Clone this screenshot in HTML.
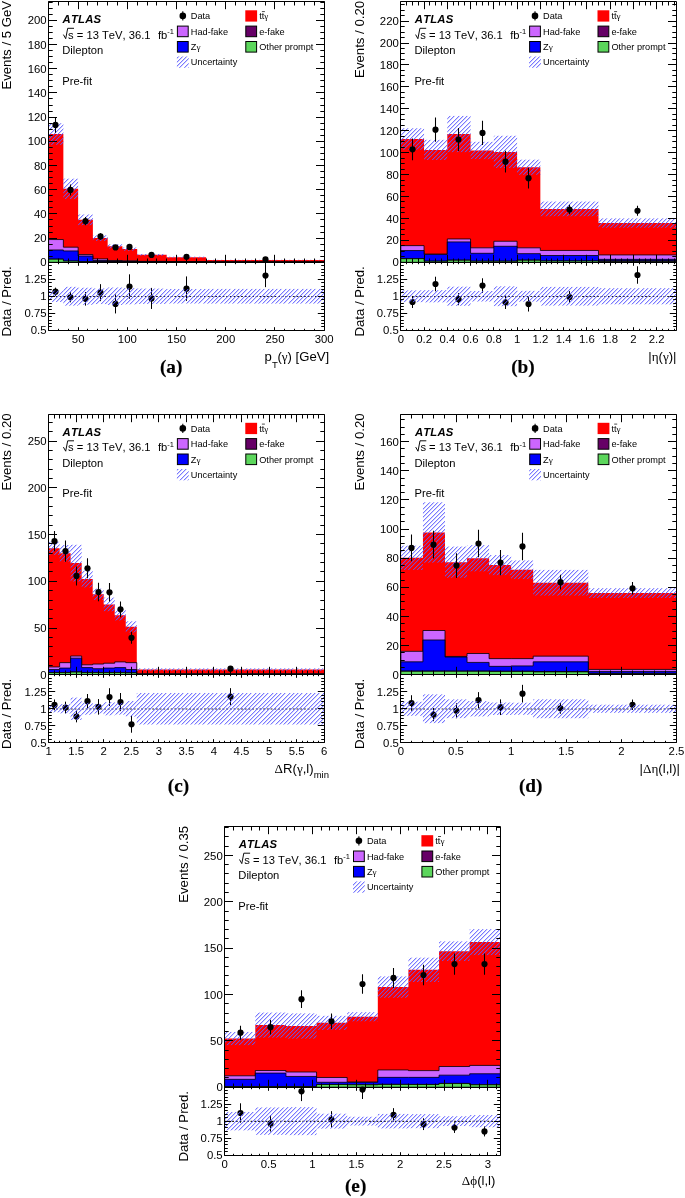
<!DOCTYPE html><html><head><meta charset="utf-8"><style>
html,body{margin:0;padding:0;background:#fff;-webkit-font-smoothing:antialiased;}
svg{display:block;will-change:transform;}
text{font-family:"Liberation Sans", sans-serif;fill:#000;font-kerning:none;}
.tl{font-size:10.9px;}
.xt{font-size:12.7px;}
.at{font-size:12.7px;}
.lt{font-size:11.2px;}
.lg{font-size:9.2px;}
.atlas{font-size:11.3px;font-weight:bold;font-style:italic;letter-spacing:0.2px;}
.pl{font-family:"Liberation Serif",serif;font-size:18px;font-weight:bold;stroke:#000;stroke-width:0.15px;}
.sub{font-size:9.2px;}
.gr{font-family:"Liberation Serif",serif;}
</style></head><body>
<svg width="685" height="1198" viewBox="0 0 685 1198">
<defs>
<pattern id="hatch" patternUnits="userSpaceOnUse" x="0" y="0" width="17" height="17"><g fill="#5c5cff" fill-opacity="0.82"><rect x="0" y="0" width="1" height="1"/><rect x="4" y="0" width="1" height="1"/><rect x="8" y="0" width="1" height="1"/><rect x="13" y="0" width="1" height="1"/><rect x="16" y="1" width="1" height="1"/><rect x="3" y="1" width="1" height="1"/><rect x="7" y="1" width="1" height="1"/><rect x="12" y="1" width="1" height="1"/><rect x="15" y="2" width="1" height="1"/><rect x="2" y="2" width="1" height="1"/><rect x="6" y="2" width="1" height="1"/><rect x="11" y="2" width="1" height="1"/><rect x="14" y="3" width="1" height="1"/><rect x="1" y="3" width="1" height="1"/><rect x="5" y="3" width="1" height="1"/><rect x="10" y="3" width="1" height="1"/><rect x="13" y="4" width="1" height="1"/><rect x="0" y="4" width="1" height="1"/><rect x="4" y="4" width="1" height="1"/><rect x="9" y="4" width="1" height="1"/><rect x="12" y="5" width="1" height="1"/><rect x="16" y="5" width="1" height="1"/><rect x="3" y="5" width="1" height="1"/><rect x="8" y="5" width="1" height="1"/><rect x="11" y="6" width="1" height="1"/><rect x="15" y="6" width="1" height="1"/><rect x="2" y="6" width="1" height="1"/><rect x="7" y="6" width="1" height="1"/><rect x="10" y="7" width="1" height="1"/><rect x="14" y="7" width="1" height="1"/><rect x="1" y="7" width="1" height="1"/><rect x="6" y="7" width="1" height="1"/><rect x="9" y="8" width="1" height="1"/><rect x="13" y="8" width="1" height="1"/><rect x="0" y="8" width="1" height="1"/><rect x="5" y="8" width="1" height="1"/><rect x="8" y="9" width="1" height="1"/><rect x="12" y="9" width="1" height="1"/><rect x="16" y="9" width="1" height="1"/><rect x="4" y="9" width="1" height="1"/><rect x="7" y="10" width="1" height="1"/><rect x="11" y="10" width="1" height="1"/><rect x="15" y="10" width="1" height="1"/><rect x="3" y="10" width="1" height="1"/><rect x="6" y="11" width="1" height="1"/><rect x="10" y="11" width="1" height="1"/><rect x="14" y="11" width="1" height="1"/><rect x="2" y="11" width="1" height="1"/><rect x="5" y="12" width="1" height="1"/><rect x="9" y="12" width="1" height="1"/><rect x="13" y="12" width="1" height="1"/><rect x="1" y="12" width="1" height="1"/><rect x="4" y="13" width="1" height="1"/><rect x="8" y="13" width="1" height="1"/><rect x="12" y="13" width="1" height="1"/><rect x="0" y="13" width="1" height="1"/><rect x="3" y="14" width="1" height="1"/><rect x="7" y="14" width="1" height="1"/><rect x="11" y="14" width="1" height="1"/><rect x="16" y="14" width="1" height="1"/><rect x="2" y="15" width="1" height="1"/><rect x="6" y="15" width="1" height="1"/><rect x="10" y="15" width="1" height="1"/><rect x="15" y="15" width="1" height="1"/><rect x="1" y="16" width="1" height="1"/><rect x="5" y="16" width="1" height="1"/><rect x="9" y="16" width="1" height="1"/><rect x="14" y="16" width="1" height="1"/></g><g fill="#5c5cff" fill-opacity="0.28"><rect x="1" y="0" width="1" height="1"/><rect x="5" y="0" width="1" height="1"/><rect x="9" y="0" width="1" height="1"/><rect x="14" y="0" width="1" height="1"/><rect x="0" y="1" width="1" height="1"/><rect x="4" y="1" width="1" height="1"/><rect x="8" y="1" width="1" height="1"/><rect x="13" y="1" width="1" height="1"/><rect x="16" y="2" width="1" height="1"/><rect x="3" y="2" width="1" height="1"/><rect x="7" y="2" width="1" height="1"/><rect x="12" y="2" width="1" height="1"/><rect x="15" y="3" width="1" height="1"/><rect x="2" y="3" width="1" height="1"/><rect x="6" y="3" width="1" height="1"/><rect x="11" y="3" width="1" height="1"/><rect x="14" y="4" width="1" height="1"/><rect x="1" y="4" width="1" height="1"/><rect x="5" y="4" width="1" height="1"/><rect x="10" y="4" width="1" height="1"/><rect x="13" y="5" width="1" height="1"/><rect x="0" y="5" width="1" height="1"/><rect x="4" y="5" width="1" height="1"/><rect x="9" y="5" width="1" height="1"/><rect x="12" y="6" width="1" height="1"/><rect x="16" y="6" width="1" height="1"/><rect x="3" y="6" width="1" height="1"/><rect x="8" y="6" width="1" height="1"/><rect x="11" y="7" width="1" height="1"/><rect x="15" y="7" width="1" height="1"/><rect x="2" y="7" width="1" height="1"/><rect x="7" y="7" width="1" height="1"/><rect x="10" y="8" width="1" height="1"/><rect x="14" y="8" width="1" height="1"/><rect x="1" y="8" width="1" height="1"/><rect x="6" y="8" width="1" height="1"/><rect x="9" y="9" width="1" height="1"/><rect x="13" y="9" width="1" height="1"/><rect x="0" y="9" width="1" height="1"/><rect x="5" y="9" width="1" height="1"/><rect x="8" y="10" width="1" height="1"/><rect x="12" y="10" width="1" height="1"/><rect x="16" y="10" width="1" height="1"/><rect x="4" y="10" width="1" height="1"/><rect x="7" y="11" width="1" height="1"/><rect x="11" y="11" width="1" height="1"/><rect x="15" y="11" width="1" height="1"/><rect x="3" y="11" width="1" height="1"/><rect x="6" y="12" width="1" height="1"/><rect x="10" y="12" width="1" height="1"/><rect x="14" y="12" width="1" height="1"/><rect x="2" y="12" width="1" height="1"/><rect x="5" y="13" width="1" height="1"/><rect x="9" y="13" width="1" height="1"/><rect x="13" y="13" width="1" height="1"/><rect x="1" y="13" width="1" height="1"/><rect x="4" y="14" width="1" height="1"/><rect x="8" y="14" width="1" height="1"/><rect x="12" y="14" width="1" height="1"/><rect x="0" y="14" width="1" height="1"/><rect x="3" y="15" width="1" height="1"/><rect x="7" y="15" width="1" height="1"/><rect x="11" y="15" width="1" height="1"/><rect x="16" y="15" width="1" height="1"/><rect x="2" y="16" width="1" height="1"/><rect x="6" y="16" width="1" height="1"/><rect x="10" y="16" width="1" height="1"/><rect x="15" y="16" width="1" height="1"/></g></pattern>
</defs>
<rect width="685" height="1198" fill="#fff"/>
<clipPath id="clipa"><rect x="48.6" y="1.8" width="275.6" height="260.5"/></clipPath>
<clipPath id="clipra"><rect x="48.6" y="262.3" width="275.6" height="67.9"/></clipPath>
<g clip-path="url(#clipa)">
<path d="M48.6,262.3 L48.6,134.05 L63.36,134.05 L63.36,188.86 L78.13,188.86 L78.13,219.83 L92.89,219.83 L92.89,238.1 L107.66,238.1 L107.66,246.33 L122.42,246.33 L122.42,249.11 L137.19,249.11 L137.19,254.8 L166.71,254.8 L166.71,257.22 L206.09,257.22 L206.09,260.06 L324.2,260.06 L324.2,262.3 Z" fill="#ff0000"/>
<path d="M48.6,262.3 L48.6,239.55 L63.36,239.55 L63.36,247.18 L78.13,247.18 L78.13,254.56 L92.89,254.56 L92.89,258.91 L107.66,258.91 L107.66,260.49 L122.42,260.49 L122.42,260.85 L137.19,260.85 L137.19,261.33 L166.71,261.33 L166.71,261.7 L206.09,261.7 L206.09,262 L324.2,262 L324.2,262.3 Z" fill="#cc66ff" stroke="#000" stroke-width="0.8"/>
<path d="M48.6,262.3 L48.6,249.96 L63.36,249.96 L63.36,250.93 L78.13,250.93 L78.13,256.01 L92.89,256.01 L92.89,260.49 L107.66,260.49 L107.66,261.33 L122.42,261.33 L122.42,261.45 L137.19,261.45 L137.19,261.82 L166.71,261.82 L166.71,261.94 L206.09,261.94 L206.09,262.18 L324.2,262.18 L324.2,262.3 Z" fill="#0000ff" stroke="#000" stroke-width="0.8"/>
<path d="M48.6,262.3 L48.6,259.15 L63.36,259.15 L63.36,261.09 L78.13,261.09 L78.13,261.57 L92.89,261.57 L92.89,261.82 L107.66,261.82 L107.66,261.94 L122.42,261.94 L122.42,261.94 L137.19,261.94 L137.19,262.06 L166.71,262.06 L166.71,262.18 L206.09,262.18 L206.09,262.24 L324.2,262.24 L324.2,262.3 Z" fill="#660066" stroke="#000" stroke-width="0.8"/>
<path d="M48.6,262.3 L48.6,259.15 L63.36,259.15 L63.36,261.09 L78.13,261.09 L78.13,261.7 L92.89,261.7 L92.89,261.94 L107.66,261.94 L107.66,262.06 L122.42,262.06 L122.42,262.06 L137.19,262.06 L137.19,262.18 L166.71,262.18 L166.71,262.18 L206.09,262.18 L206.09,262.24 L324.2,262.24 L324.2,262.3 Z" fill="#5cd65c" stroke="#000" stroke-width="0.8"/>
<rect x="48.6" y="123.28" width="14.76" height="21.54" fill="url(#hatch)"/>
<rect x="63.36" y="178.69" width="14.76" height="20.33" fill="url(#hatch)"/>
<rect x="78.13" y="214.51" width="14.76" height="10.65" fill="url(#hatch)"/>
<rect x="92.89" y="235.32" width="14.76" height="5.57" fill="url(#hatch)"/>
<rect x="107.66" y="244.27" width="14.76" height="4.11" fill="url(#hatch)"/>
<rect x="122.42" y="247.54" width="14.76" height="3.15" fill="url(#hatch)"/>
<rect x="137.19" y="253.95" width="29.53" height="1.69" fill="url(#hatch)"/>
<rect x="166.71" y="256.67" width="39.37" height="1.09" fill="url(#hatch)"/>
<rect x="206.09" y="259.82" width="118.11" height="0.48" fill="url(#hatch)"/>
<line x1="55.5" y1="117.11" x2="55.5" y2="132.84" stroke="#000" stroke-width="1.05"/>
<circle cx="55.5" cy="124.97" r="3.1" fill="#000"/>
<line x1="70.5" y1="184.5" x2="70.5" y2="195.39" stroke="#000" stroke-width="1.05"/>
<circle cx="70.5" cy="189.95" r="3.1" fill="#000"/>
<line x1="85.5" y1="217.05" x2="85.5" y2="225.28" stroke="#000" stroke-width="1.05"/>
<circle cx="85.5" cy="221.16" r="3.1" fill="#000"/>
<line x1="100.5" y1="233.14" x2="100.5" y2="239.67" stroke="#000" stroke-width="1.05"/>
<circle cx="100.5" cy="236.41" r="3.1" fill="#000"/>
<line x1="115.5" y1="245" x2="115.5" y2="249.84" stroke="#000" stroke-width="1.05"/>
<circle cx="115.5" cy="247.42" r="3.1" fill="#000"/>
<line x1="129.5" y1="244.39" x2="129.5" y2="249.47" stroke="#000" stroke-width="1.05"/>
<circle cx="129.5" cy="246.93" r="3.1" fill="#000"/>
<line x1="151.5" y1="253.71" x2="151.5" y2="256.13" stroke="#000" stroke-width="1.05"/>
<circle cx="151.5" cy="254.92" r="3.1" fill="#000"/>
<line x1="186.5" y1="255.81" x2="186.5" y2="257.65" stroke="#000" stroke-width="1.05"/>
<circle cx="186.5" cy="256.73" r="3.1" fill="#000"/>
<line x1="265.5" y1="258.97" x2="265.5" y2="259.82" stroke="#000" stroke-width="1.05"/>
<circle cx="265.5" cy="259.4" r="3.1" fill="#000"/>
</g>
<line x1="48.6" y1="296.45" x2="324.2" y2="296.45" stroke="#222" stroke-width="1.1" stroke-dasharray="1.9,1.8"/>
<line x1="55.5" y1="287.63" x2="55.5" y2="295.77" stroke="#000" stroke-width="1.05"/>
<circle cx="55.5" cy="291.7" r="3.1" fill="#000"/>
<line x1="70.5" y1="292.22" x2="70.5" y2="302.29" stroke="#000" stroke-width="1.05"/>
<circle cx="70.5" cy="297.26" r="3.1" fill="#000"/>
<line x1="85.5" y1="292.04" x2="85.5" y2="305.62" stroke="#000" stroke-width="1.05"/>
<circle cx="85.5" cy="298.83" r="3.1" fill="#000"/>
<line x1="100.5" y1="284.16" x2="100.5" y2="301.14" stroke="#000" stroke-width="1.05"/>
<circle cx="100.5" cy="292.65" r="3.1" fill="#000"/>
<line x1="115.5" y1="294.42" x2="115.5" y2="313.43" stroke="#000" stroke-width="1.05"/>
<circle cx="115.5" cy="303.92" r="3.1" fill="#000"/>
<line x1="129.5" y1="274.32" x2="129.5" y2="298.76" stroke="#000" stroke-width="1.05"/>
<circle cx="129.5" cy="286.54" r="3.1" fill="#000"/>
<line x1="151.5" y1="287.9" x2="151.5" y2="308.95" stroke="#000" stroke-width="1.05"/>
<circle cx="151.5" cy="298.42" r="3.1" fill="#000"/>
<line x1="186.5" y1="276.42" x2="186.5" y2="300.87" stroke="#000" stroke-width="1.05"/>
<circle cx="186.5" cy="288.65" r="3.1" fill="#000"/>
<line x1="265.5" y1="264.07" x2="265.5" y2="287.15" stroke="#000" stroke-width="1.05"/>
<circle cx="265.5" cy="275.61" r="3.1" fill="#000"/>
<rect x="48.6" y="290.55" width="14.76" height="11.4" fill="url(#hatch)"/>
<rect x="63.36" y="286.85" width="14.76" height="18.79" fill="url(#hatch)"/>
<rect x="78.13" y="287.74" width="14.76" height="17.02" fill="url(#hatch)"/>
<rect x="92.89" y="288.44" width="14.76" height="15.62" fill="url(#hatch)"/>
<rect x="107.66" y="287.51" width="14.76" height="17.49" fill="url(#hatch)"/>
<rect x="122.42" y="288.15" width="14.76" height="16.2" fill="url(#hatch)"/>
<rect x="137.19" y="288.58" width="29.53" height="15.33" fill="url(#hatch)"/>
<rect x="166.71" y="288.98" width="39.37" height="14.55" fill="url(#hatch)"/>
<rect x="206.09" y="288.91" width="118.11" height="14.68" fill="url(#hatch)"/>
<path d="M48.5,1.5H324.5V330.5H48.5Z M48.5,262.5H324.5" fill="none" stroke="#000" stroke-width="1"/>
<path d="M48.5,262.5h8.5M324.5,262.5h-8.5M48.5,256.5h4.2M324.5,256.5h-4.2M48.5,250.5h4.2M324.5,250.5h-4.2M48.5,244.5h4.2M324.5,244.5h-4.2M48.5,238.5h8.5M324.5,238.5h-8.5M48.5,232.5h4.2M324.5,232.5h-4.2M48.5,226.5h4.2M324.5,226.5h-4.2M48.5,219.5h4.2M324.5,219.5h-4.2M48.5,213.5h8.5M324.5,213.5h-8.5M48.5,207.5h4.2M324.5,207.5h-4.2M48.5,201.5h4.2M324.5,201.5h-4.2M48.5,195.5h4.2M324.5,195.5h-4.2M48.5,189.5h8.5M324.5,189.5h-8.5M48.5,183.5h4.2M324.5,183.5h-4.2M48.5,177.5h4.2M324.5,177.5h-4.2M48.5,171.5h4.2M324.5,171.5h-4.2M48.5,165.5h8.5M324.5,165.5h-8.5M48.5,159.5h4.2M324.5,159.5h-4.2M48.5,153.5h4.2M324.5,153.5h-4.2M48.5,147.5h4.2M324.5,147.5h-4.2M48.5,141.5h8.5M324.5,141.5h-8.5M48.5,135.5h4.2M324.5,135.5h-4.2M48.5,129.5h4.2M324.5,129.5h-4.2M48.5,123.5h4.2M324.5,123.5h-4.2M48.5,117.5h8.5M324.5,117.5h-8.5M48.5,111.5h4.2M324.5,111.5h-4.2M48.5,105.5h4.2M324.5,105.5h-4.2M48.5,98.5h4.2M324.5,98.5h-4.2M48.5,92.5h8.5M324.5,92.5h-8.5M48.5,86.5h4.2M324.5,86.5h-4.2M48.5,80.5h4.2M324.5,80.5h-4.2M48.5,74.5h4.2M324.5,74.5h-4.2M48.5,68.5h8.5M324.5,68.5h-8.5M48.5,62.5h4.2M324.5,62.5h-4.2M48.5,56.5h4.2M324.5,56.5h-4.2M48.5,50.5h4.2M324.5,50.5h-4.2M48.5,44.5h8.5M324.5,44.5h-8.5M48.5,38.5h4.2M324.5,38.5h-4.2M48.5,32.5h4.2M324.5,32.5h-4.2M48.5,26.5h4.2M324.5,26.5h-4.2M48.5,20.5h8.5M324.5,20.5h-8.5M48.5,14.5h4.2M324.5,14.5h-4.2M48.5,8.5h4.2M324.5,8.5h-4.2M48.5,2.5h4.2M324.5,2.5h-4.2M48.5,330.5h6.7M324.5,330.5h-6.7M48.5,326.5h3.3M324.5,326.5h-3.3M48.5,323.5h3.3M324.5,323.5h-3.3M48.5,320.5h3.3M324.5,320.5h-3.3M48.5,316.5h3.3M324.5,316.5h-3.3M48.5,313.5h6.7M324.5,313.5h-6.7M48.5,309.5h3.3M324.5,309.5h-3.3M48.5,306.5h3.3M324.5,306.5h-3.3M48.5,303.5h3.3M324.5,303.5h-3.3M48.5,299.5h3.3M324.5,299.5h-3.3M48.5,296.5h6.7M324.5,296.5h-6.7M48.5,292.5h3.3M324.5,292.5h-3.3M48.5,289.5h3.3M324.5,289.5h-3.3M48.5,286.5h3.3M324.5,286.5h-3.3M48.5,282.5h3.3M324.5,282.5h-3.3M48.5,279.5h6.7M324.5,279.5h-6.7M48.5,275.5h3.3M324.5,275.5h-3.3M48.5,272.5h3.3M324.5,272.5h-3.3M48.5,269.5h3.3M324.5,269.5h-3.3M48.5,265.5h3.3M324.5,265.5h-3.3M48.5,262.5h6.7M324.5,262.5h-6.7M48.5,1.5v4.0M48.5,262.5v-4.0M48.5,262.5v1.7M48.5,330.5v-1.7M58.5,1.5v4.0M58.5,262.5v-4.0M58.5,262.5v1.7M58.5,330.5v-1.7M68.5,1.5v4.0M68.5,262.5v-4.0M68.5,262.5v1.7M68.5,330.5v-1.7M78.5,1.5v7.7M78.5,262.5v-7.7M78.5,262.5v3.3M78.5,330.5v-3.3M87.5,1.5v4.0M87.5,262.5v-4.0M87.5,262.5v1.7M87.5,330.5v-1.7M97.5,1.5v4.0M97.5,262.5v-4.0M97.5,262.5v1.7M97.5,330.5v-1.7M107.5,1.5v4.0M107.5,262.5v-4.0M107.5,262.5v1.7M107.5,330.5v-1.7M117.5,1.5v4.0M117.5,262.5v-4.0M117.5,262.5v1.7M117.5,330.5v-1.7M127.5,1.5v7.7M127.5,262.5v-7.7M127.5,262.5v3.3M127.5,330.5v-3.3M137.5,1.5v4.0M137.5,262.5v-4.0M137.5,262.5v1.7M137.5,330.5v-1.7M147.5,1.5v4.0M147.5,262.5v-4.0M147.5,262.5v1.7M147.5,330.5v-1.7M156.5,1.5v4.0M156.5,262.5v-4.0M156.5,262.5v1.7M156.5,330.5v-1.7M166.5,1.5v4.0M166.5,262.5v-4.0M166.5,262.5v1.7M166.5,330.5v-1.7M176.5,1.5v7.7M176.5,262.5v-7.7M176.5,262.5v3.3M176.5,330.5v-3.3M186.5,1.5v4.0M186.5,262.5v-4.0M186.5,262.5v1.7M186.5,330.5v-1.7M196.5,1.5v4.0M196.5,262.5v-4.0M196.5,262.5v1.7M196.5,330.5v-1.7M206.5,1.5v4.0M206.5,262.5v-4.0M206.5,262.5v1.7M206.5,330.5v-1.7M215.5,1.5v4.0M215.5,262.5v-4.0M215.5,262.5v1.7M215.5,330.5v-1.7M225.5,1.5v7.7M225.5,262.5v-7.7M225.5,262.5v3.3M225.5,330.5v-3.3M235.5,1.5v4.0M235.5,262.5v-4.0M235.5,262.5v1.7M235.5,330.5v-1.7M245.5,1.5v4.0M245.5,262.5v-4.0M245.5,262.5v1.7M245.5,330.5v-1.7M255.5,1.5v4.0M255.5,262.5v-4.0M255.5,262.5v1.7M255.5,330.5v-1.7M265.5,1.5v4.0M265.5,262.5v-4.0M265.5,262.5v1.7M265.5,330.5v-1.7M274.5,1.5v7.7M274.5,262.5v-7.7M274.5,262.5v3.3M274.5,330.5v-3.3M284.5,1.5v4.0M284.5,262.5v-4.0M284.5,262.5v1.7M284.5,330.5v-1.7M294.5,1.5v4.0M294.5,262.5v-4.0M294.5,262.5v1.7M294.5,330.5v-1.7M304.5,1.5v4.0M304.5,262.5v-4.0M304.5,262.5v1.7M304.5,330.5v-1.7M314.5,1.5v4.0M314.5,262.5v-4.0M314.5,262.5v1.7M314.5,330.5v-1.7M324.5,1.5v7.7M324.5,262.5v-7.7M324.5,262.5v3.3M324.5,330.5v-3.3" stroke="#000" stroke-width="1" fill="none"/>
<text transform="translate(46.6,266.4) scale(1.045,1)" text-anchor="end" class="tl">0</text>
<text transform="translate(46.6,242.2) scale(1.045,1)" text-anchor="end" class="tl">20</text>
<text transform="translate(46.6,218) scale(1.045,1)" text-anchor="end" class="tl">40</text>
<text transform="translate(46.6,193.8) scale(1.045,1)" text-anchor="end" class="tl">60</text>
<text transform="translate(46.6,169.6) scale(1.045,1)" text-anchor="end" class="tl">80</text>
<text transform="translate(46.6,145.41) scale(1.045,1)" text-anchor="end" class="tl">100</text>
<text transform="translate(46.6,121.21) scale(1.045,1)" text-anchor="end" class="tl">120</text>
<text transform="translate(46.6,97.01) scale(1.045,1)" text-anchor="end" class="tl">140</text>
<text transform="translate(46.6,72.81) scale(1.045,1)" text-anchor="end" class="tl">160</text>
<text transform="translate(46.6,48.61) scale(1.045,1)" text-anchor="end" class="tl">180</text>
<text transform="translate(46.6,24.41) scale(1.045,1)" text-anchor="end" class="tl">200</text>
<text transform="translate(46.6,334.3) scale(1.045,1)" text-anchor="end" class="tl">0.5</text>
<text transform="translate(46.6,317.33) scale(1.045,1)" text-anchor="end" class="tl">0.75</text>
<text transform="translate(46.6,300.35) scale(1.045,1)" text-anchor="end" class="tl">1</text>
<text transform="translate(46.6,283.38) scale(1.045,1)" text-anchor="end" class="tl">1.25</text>
<text transform="translate(78.13,342.8) scale(1.045,1)" text-anchor="middle" class="tl">50</text>
<text transform="translate(127.34,342.8) scale(1.045,1)" text-anchor="middle" class="tl">100</text>
<text transform="translate(176.56,342.8) scale(1.045,1)" text-anchor="middle" class="tl">150</text>
<text transform="translate(225.77,342.8) scale(1.045,1)" text-anchor="middle" class="tl">200</text>
<text transform="translate(274.99,342.8) scale(1.045,1)" text-anchor="middle" class="tl">250</text>
<text transform="translate(324.2,342.8) scale(1.045,1)" text-anchor="middle" class="tl">300</text>
<text transform="translate(11.4,0.9) rotate(-90) scale(1.04,1)" text-anchor="end" class="at">Events / 5 GeV</text>
<text transform="translate(11.4,266.2) rotate(-90) scale(1.04,1)" text-anchor="end" class="at">Data / Pred.</text>
<text transform="translate(264.5,360.8) scale(1.035,1)" class="xt">p<tspan dy="7.4" dx="0.3" class="sub">T</tspan><tspan dy="-7.4" dx="-0.5">(</tspan><tspan class="gr">&#947;</tspan>) [GeV]</text>
<text x="62.6" y="23" class="atlas">ATLAS</text>
<text x="68.1" y="38.6" class="lt" xml:space="preserve">s = 13 TeV, 36.1  <tspan dx="1.2">fb</tspan><tspan dy="-4.2" font-size="7.5">-1</tspan></text>
<path d="M63.4,34.6 L65.7,38.7 L67.7,28.3 L74,28.3" stroke="#000" stroke-width="0.95" fill="none"/>
<text x="62.2" y="54.1" class="lt">Dilepton</text>
<text x="62.2" y="84.7" class="lt">Pre-fit</text>
<line x1="182.8" y1="11.3" x2="182.8" y2="20.5" stroke="#000" stroke-width="1.05"/><circle cx="182.8" cy="15.9" r="3.3"/>
<text x="190.8" y="19.2" class="lg">Data</text>
<rect x="245.3" y="10.3" width="11.8" height="11.3" fill="#ff0000"/>
<text x="259.2" y="19.2" class="lg">tt<tspan class="gr">&#947;</tspan></text>
<line x1="261.9" y1="11.6" x2="264.9" y2="11.6" stroke="#000" stroke-width="0.7"/>
<rect x="177.4" y="26.1" width="10.8" height="10.6" fill="#cc66ff" stroke="#000" stroke-width="1"/>
<text x="190.8" y="34.6" class="lg">Had-fake</text>
<rect x="245.8" y="26.1" width="10.8" height="10.6" fill="#660066" stroke="#000" stroke-width="1"/>
<text x="259.2" y="34.6" class="lg">e-fake</text>
<rect x="177.4" y="41.5" width="10.8" height="10.6" fill="#0000ff" stroke="#000" stroke-width="1"/>
<text x="190.8" y="50" class="lg">Z<tspan class="gr">&#947;</tspan></text>
<rect x="245.8" y="41.5" width="10.8" height="10.6" fill="#5cd65c" stroke="#000" stroke-width="1"/>
<text x="259.2" y="50" class="lg">Other prompt</text>
<rect x="176.9" y="56.5" width="11.8" height="11.3" fill="url(#hatch)"/>
<text x="190.8" y="65.4" class="lg">Uncertainty</text>
<text transform="translate(171.1,372.9) scale(1.07,1)" text-anchor="middle" class="pl">(a)</text>
<clipPath id="clipb"><rect x="400.8" y="1.8" width="275.6" height="260.5"/></clipPath>
<clipPath id="cliprb"><rect x="400.8" y="262.3" width="275.6" height="67.9"/></clipPath>
<g clip-path="url(#clipb)">
<path d="M400.8,262.3 L400.8,138.96 L424.06,138.96 L424.06,149.92 L447.31,149.92 L447.31,134.02 L470.57,134.02 L470.57,150.47 L493.83,150.47 L493.83,151.89 L517.09,151.89 L517.09,167.24 L540.34,167.24 L540.34,208.91 L598.49,208.91 L598.49,223.05 L676.4,223.05 L676.4,262.3 Z" fill="#ff0000"/>
<path d="M400.8,262.3 L400.8,245.64 L424.06,245.64 L424.06,254.08 L447.31,254.08 L447.31,238.95 L470.57,238.95 L470.57,247.83 L493.83,247.83 L493.83,241.25 L517.09,241.25 L517.09,247.83 L540.34,247.83 L540.34,250.46 L598.49,250.46 L598.49,254.95 L676.4,254.95 L676.4,262.3 Z" fill="#cc66ff" stroke="#000" stroke-width="0.8"/>
<path d="M400.8,262.3 L400.8,250.57 L424.06,250.57 L424.06,254.41 L447.31,254.41 L447.31,241.91 L470.57,241.91 L470.57,253.31 L493.83,253.31 L493.83,246.29 L517.09,246.29 L517.09,253.64 L540.34,253.64 L540.34,255.5 L598.49,255.5 L598.49,259.34 L676.4,259.34 L676.4,262.3 Z" fill="#0000ff" stroke="#000" stroke-width="0.8"/>
<path d="M400.8,262.3 L400.8,258.68 L424.06,258.68 L424.06,261.2 L447.31,261.2 L447.31,260.11 L470.57,260.11 L470.57,261.2 L493.83,261.2 L493.83,261.2 L517.09,261.2 L517.09,260.11 L540.34,260.11 L540.34,260.98 L598.49,260.98 L598.49,260.66 L676.4,260.66 L676.4,262.3 Z" fill="#660066" stroke="#000" stroke-width="0.8"/>
<path d="M400.8,262.3 L400.8,258.68 L424.06,258.68 L424.06,261.2 L447.31,261.2 L447.31,260.22 L470.57,260.22 L470.57,261.2 L493.83,261.2 L493.83,261.2 L517.09,261.2 L517.09,260.22 L540.34,260.22 L540.34,260.98 L598.49,260.98 L598.49,261.42 L676.4,261.42 L676.4,262.3 Z" fill="#5cd65c" stroke="#000" stroke-width="0.8"/>
<rect x="400.8" y="128.27" width="23.26" height="21.38" fill="url(#hatch)"/>
<rect x="424.06" y="139.83" width="23.26" height="20.17" fill="url(#hatch)"/>
<rect x="447.31" y="115.93" width="23.26" height="36.18" fill="url(#hatch)"/>
<rect x="470.57" y="141.81" width="23.26" height="17.32" fill="url(#hatch)"/>
<rect x="493.83" y="135.78" width="23.26" height="32.23" fill="url(#hatch)"/>
<rect x="517.09" y="159.68" width="23.26" height="15.13" fill="url(#hatch)"/>
<rect x="540.34" y="201.56" width="58.14" height="14.69" fill="url(#hatch)"/>
<rect x="598.49" y="218.39" width="77.91" height="9.32" fill="url(#hatch)"/>
<line x1="412.5" y1="138.41" x2="412.5" y2="160.34" stroke="#000" stroke-width="1.05"/>
<circle cx="412.5" cy="149.37" r="3.1" fill="#000"/>
<line x1="435.5" y1="117.58" x2="435.5" y2="141.7" stroke="#000" stroke-width="1.05"/>
<circle cx="435.5" cy="129.64" r="3.1" fill="#000"/>
<line x1="458.5" y1="128.1" x2="458.5" y2="150.91" stroke="#000" stroke-width="1.05"/>
<circle cx="458.5" cy="139.51" r="3.1" fill="#000"/>
<line x1="482.5" y1="120.87" x2="482.5" y2="144.99" stroke="#000" stroke-width="1.05"/>
<circle cx="482.5" cy="132.93" r="3.1" fill="#000"/>
<line x1="505.5" y1="150.69" x2="505.5" y2="172.62" stroke="#000" stroke-width="1.05"/>
<circle cx="505.5" cy="161.65" r="3.1" fill="#000"/>
<line x1="528.5" y1="167.79" x2="528.5" y2="188.62" stroke="#000" stroke-width="1.05"/>
<circle cx="528.5" cy="178.21" r="3.1" fill="#000"/>
<line x1="569.5" y1="204.85" x2="569.5" y2="214.28" stroke="#000" stroke-width="1.05"/>
<circle cx="569.5" cy="209.56" r="3.1" fill="#000"/>
<line x1="637.5" y1="205.73" x2="637.5" y2="215.81" stroke="#000" stroke-width="1.05"/>
<circle cx="637.5" cy="210.77" r="3.1" fill="#000"/>
</g>
<line x1="400.8" y1="296.45" x2="676.4" y2="296.45" stroke="#222" stroke-width="1.1" stroke-dasharray="1.9,1.8"/>
<line x1="412.5" y1="295.95" x2="412.5" y2="308.02" stroke="#000" stroke-width="1.05"/>
<circle cx="412.5" cy="301.98" r="3.1" fill="#000"/>
<line x1="435.5" y1="276.71" x2="435.5" y2="291.28" stroke="#000" stroke-width="1.05"/>
<circle cx="435.5" cy="283.99" r="3.1" fill="#000"/>
<line x1="458.5" y1="293.12" x2="458.5" y2="305.19" stroke="#000" stroke-width="1.05"/>
<circle cx="458.5" cy="299.15" r="3.1" fill="#000"/>
<line x1="482.5" y1="278.28" x2="482.5" y2="292.92" stroke="#000" stroke-width="1.05"/>
<circle cx="482.5" cy="285.6" r="3.1" fill="#000"/>
<line x1="505.5" y1="295.51" x2="505.5" y2="308.99" stroke="#000" stroke-width="1.05"/>
<circle cx="505.5" cy="302.25" r="3.1" fill="#000"/>
<line x1="528.5" y1="296.64" x2="528.5" y2="311.52" stroke="#000" stroke-width="1.05"/>
<circle cx="528.5" cy="304.08" r="3.1" fill="#000"/>
<line x1="569.5" y1="291.09" x2="569.5" y2="303.08" stroke="#000" stroke-width="1.05"/>
<circle cx="569.5" cy="297.09" r="3.1" fill="#000"/>
<line x1="637.5" y1="266.28" x2="637.5" y2="283.73" stroke="#000" stroke-width="1.05"/>
<circle cx="637.5" cy="275.01" r="3.1" fill="#000"/>
<rect x="400.8" y="290.37" width="23.26" height="11.77" fill="url(#hatch)"/>
<rect x="424.06" y="290.16" width="23.26" height="12.19" fill="url(#hatch)"/>
<rect x="447.31" y="286.67" width="23.26" height="19.15" fill="url(#hatch)"/>
<rect x="470.57" y="290.99" width="23.26" height="10.52" fill="url(#hatch)"/>
<rect x="493.83" y="286.34" width="23.26" height="19.82" fill="url(#hatch)"/>
<rect x="517.09" y="290.85" width="23.26" height="10.81" fill="url(#hatch)"/>
<rect x="540.34" y="286.91" width="58.14" height="18.68" fill="url(#hatch)"/>
<rect x="598.49" y="288.19" width="77.91" height="16.12" fill="url(#hatch)"/>
<path d="M400.5,1.5H676.5V330.5H400.5Z M400.5,262.5H676.5" fill="none" stroke="#000" stroke-width="1"/>
<path d="M400.5,262.5h8.5M676.5,262.5h-8.5M400.5,256.5h4.2M676.5,256.5h-4.2M400.5,251.5h4.2M676.5,251.5h-4.2M400.5,245.5h4.2M676.5,245.5h-4.2M400.5,240.5h8.5M676.5,240.5h-8.5M400.5,234.5h4.2M676.5,234.5h-4.2M400.5,229.5h4.2M676.5,229.5h-4.2M400.5,223.5h4.2M676.5,223.5h-4.2M400.5,218.5h8.5M676.5,218.5h-8.5M400.5,212.5h4.2M676.5,212.5h-4.2M400.5,207.5h4.2M676.5,207.5h-4.2M400.5,201.5h4.2M676.5,201.5h-4.2M400.5,196.5h8.5M676.5,196.5h-8.5M400.5,191.5h4.2M676.5,191.5h-4.2M400.5,185.5h4.2M676.5,185.5h-4.2M400.5,180.5h4.2M676.5,180.5h-4.2M400.5,174.5h8.5M676.5,174.5h-8.5M400.5,169.5h4.2M676.5,169.5h-4.2M400.5,163.5h4.2M676.5,163.5h-4.2M400.5,158.5h4.2M676.5,158.5h-4.2M400.5,152.5h8.5M676.5,152.5h-8.5M400.5,147.5h4.2M676.5,147.5h-4.2M400.5,141.5h4.2M676.5,141.5h-4.2M400.5,136.5h4.2M676.5,136.5h-4.2M400.5,130.5h8.5M676.5,130.5h-8.5M400.5,125.5h4.2M676.5,125.5h-4.2M400.5,119.5h4.2M676.5,119.5h-4.2M400.5,114.5h4.2M676.5,114.5h-4.2M400.5,108.5h8.5M676.5,108.5h-8.5M400.5,103.5h4.2M676.5,103.5h-4.2M400.5,97.5h4.2M676.5,97.5h-4.2M400.5,92.5h4.2M676.5,92.5h-4.2M400.5,86.5h8.5M676.5,86.5h-8.5M400.5,81.5h4.2M676.5,81.5h-4.2M400.5,75.5h4.2M676.5,75.5h-4.2M400.5,70.5h4.2M676.5,70.5h-4.2M400.5,64.5h8.5M676.5,64.5h-8.5M400.5,59.5h4.2M676.5,59.5h-4.2M400.5,53.5h4.2M676.5,53.5h-4.2M400.5,48.5h4.2M676.5,48.5h-4.2M400.5,43.5h8.5M676.5,43.5h-8.5M400.5,37.5h4.2M676.5,37.5h-4.2M400.5,32.5h4.2M676.5,32.5h-4.2M400.5,26.5h4.2M676.5,26.5h-4.2M400.5,21.5h8.5M676.5,21.5h-8.5M400.5,15.5h4.2M676.5,15.5h-4.2M400.5,10.5h4.2M676.5,10.5h-4.2M400.5,4.5h4.2M676.5,4.5h-4.2M400.5,330.5h6.7M676.5,330.5h-6.7M400.5,326.5h3.3M676.5,326.5h-3.3M400.5,323.5h3.3M676.5,323.5h-3.3M400.5,320.5h3.3M676.5,320.5h-3.3M400.5,316.5h3.3M676.5,316.5h-3.3M400.5,313.5h6.7M676.5,313.5h-6.7M400.5,309.5h3.3M676.5,309.5h-3.3M400.5,306.5h3.3M676.5,306.5h-3.3M400.5,303.5h3.3M676.5,303.5h-3.3M400.5,299.5h3.3M676.5,299.5h-3.3M400.5,296.5h6.7M676.5,296.5h-6.7M400.5,292.5h3.3M676.5,292.5h-3.3M400.5,289.5h3.3M676.5,289.5h-3.3M400.5,286.5h3.3M676.5,286.5h-3.3M400.5,282.5h3.3M676.5,282.5h-3.3M400.5,279.5h6.7M676.5,279.5h-6.7M400.5,275.5h3.3M676.5,275.5h-3.3M400.5,272.5h3.3M676.5,272.5h-3.3M400.5,269.5h3.3M676.5,269.5h-3.3M400.5,265.5h3.3M676.5,265.5h-3.3M400.5,262.5h6.7M676.5,262.5h-6.7M400.5,1.5v7.7M400.5,262.5v-7.7M400.5,262.5v3.3M400.5,330.5v-3.3M406.5,1.5v4.0M406.5,262.5v-4.0M406.5,262.5v1.7M406.5,330.5v-1.7M412.5,1.5v4.0M412.5,262.5v-4.0M412.5,262.5v1.7M412.5,330.5v-1.7M418.5,1.5v4.0M418.5,262.5v-4.0M418.5,262.5v1.7M418.5,330.5v-1.7M424.5,1.5v7.7M424.5,262.5v-7.7M424.5,262.5v3.3M424.5,330.5v-3.3M429.5,1.5v4.0M429.5,262.5v-4.0M429.5,262.5v1.7M429.5,330.5v-1.7M435.5,1.5v4.0M435.5,262.5v-4.0M435.5,262.5v1.7M435.5,330.5v-1.7M441.5,1.5v4.0M441.5,262.5v-4.0M441.5,262.5v1.7M441.5,330.5v-1.7M447.5,1.5v7.7M447.5,262.5v-7.7M447.5,262.5v3.3M447.5,330.5v-3.3M453.5,1.5v4.0M453.5,262.5v-4.0M453.5,262.5v1.7M453.5,330.5v-1.7M458.5,1.5v4.0M458.5,262.5v-4.0M458.5,262.5v1.7M458.5,330.5v-1.7M464.5,1.5v4.0M464.5,262.5v-4.0M464.5,262.5v1.7M464.5,330.5v-1.7M470.5,1.5v7.7M470.5,262.5v-7.7M470.5,262.5v3.3M470.5,330.5v-3.3M476.5,1.5v4.0M476.5,262.5v-4.0M476.5,262.5v1.7M476.5,330.5v-1.7M482.5,1.5v4.0M482.5,262.5v-4.0M482.5,262.5v1.7M482.5,330.5v-1.7M488.5,1.5v4.0M488.5,262.5v-4.0M488.5,262.5v1.7M488.5,330.5v-1.7M493.5,1.5v7.7M493.5,262.5v-7.7M493.5,262.5v3.3M493.5,330.5v-3.3M499.5,1.5v4.0M499.5,262.5v-4.0M499.5,262.5v1.7M499.5,330.5v-1.7M505.5,1.5v4.0M505.5,262.5v-4.0M505.5,262.5v1.7M505.5,330.5v-1.7M511.5,1.5v4.0M511.5,262.5v-4.0M511.5,262.5v1.7M511.5,330.5v-1.7M517.5,1.5v7.7M517.5,262.5v-7.7M517.5,262.5v3.3M517.5,330.5v-3.3M522.5,1.5v4.0M522.5,262.5v-4.0M522.5,262.5v1.7M522.5,330.5v-1.7M528.5,1.5v4.0M528.5,262.5v-4.0M528.5,262.5v1.7M528.5,330.5v-1.7M534.5,1.5v4.0M534.5,262.5v-4.0M534.5,262.5v1.7M534.5,330.5v-1.7M540.5,1.5v7.7M540.5,262.5v-7.7M540.5,262.5v3.3M540.5,330.5v-3.3M546.5,1.5v4.0M546.5,262.5v-4.0M546.5,262.5v1.7M546.5,330.5v-1.7M551.5,1.5v4.0M551.5,262.5v-4.0M551.5,262.5v1.7M551.5,330.5v-1.7M557.5,1.5v4.0M557.5,262.5v-4.0M557.5,262.5v1.7M557.5,330.5v-1.7M563.5,1.5v7.7M563.5,262.5v-7.7M563.5,262.5v3.3M563.5,330.5v-3.3M569.5,1.5v4.0M569.5,262.5v-4.0M569.5,262.5v1.7M569.5,330.5v-1.7M575.5,1.5v4.0M575.5,262.5v-4.0M575.5,262.5v1.7M575.5,330.5v-1.7M581.5,1.5v4.0M581.5,262.5v-4.0M581.5,262.5v1.7M581.5,330.5v-1.7M586.5,1.5v7.7M586.5,262.5v-7.7M586.5,262.5v3.3M586.5,330.5v-3.3M592.5,1.5v4.0M592.5,262.5v-4.0M592.5,262.5v1.7M592.5,330.5v-1.7M598.5,1.5v4.0M598.5,262.5v-4.0M598.5,262.5v1.7M598.5,330.5v-1.7M604.5,1.5v4.0M604.5,262.5v-4.0M604.5,262.5v1.7M604.5,330.5v-1.7M610.5,1.5v7.7M610.5,262.5v-7.7M610.5,262.5v3.3M610.5,330.5v-3.3M615.5,1.5v4.0M615.5,262.5v-4.0M615.5,262.5v1.7M615.5,330.5v-1.7M621.5,1.5v4.0M621.5,262.5v-4.0M621.5,262.5v1.7M621.5,330.5v-1.7M627.5,1.5v4.0M627.5,262.5v-4.0M627.5,262.5v1.7M627.5,330.5v-1.7M633.5,1.5v7.7M633.5,262.5v-7.7M633.5,262.5v3.3M633.5,330.5v-3.3M639.5,1.5v4.0M639.5,262.5v-4.0M639.5,262.5v1.7M639.5,330.5v-1.7M645.5,1.5v4.0M645.5,262.5v-4.0M645.5,262.5v1.7M645.5,330.5v-1.7M650.5,1.5v4.0M650.5,262.5v-4.0M650.5,262.5v1.7M650.5,330.5v-1.7M656.5,1.5v7.7M656.5,262.5v-7.7M656.5,262.5v3.3M656.5,330.5v-3.3M662.5,1.5v4.0M662.5,262.5v-4.0M662.5,262.5v1.7M662.5,330.5v-1.7M668.5,1.5v4.0M668.5,262.5v-4.0M668.5,262.5v1.7M668.5,330.5v-1.7M674.5,1.5v4.0M674.5,262.5v-4.0M674.5,262.5v1.7M674.5,330.5v-1.7" stroke="#000" stroke-width="1" fill="none"/>
<text transform="translate(398.8,266.4) scale(1.045,1)" text-anchor="end" class="tl">0</text>
<text transform="translate(398.8,244.47) scale(1.045,1)" text-anchor="end" class="tl">20</text>
<text transform="translate(398.8,222.54) scale(1.045,1)" text-anchor="end" class="tl">40</text>
<text transform="translate(398.8,200.62) scale(1.045,1)" text-anchor="end" class="tl">60</text>
<text transform="translate(398.8,178.69) scale(1.045,1)" text-anchor="end" class="tl">80</text>
<text transform="translate(398.8,156.76) scale(1.045,1)" text-anchor="end" class="tl">100</text>
<text transform="translate(398.8,134.83) scale(1.045,1)" text-anchor="end" class="tl">120</text>
<text transform="translate(398.8,112.91) scale(1.045,1)" text-anchor="end" class="tl">140</text>
<text transform="translate(398.8,90.98) scale(1.045,1)" text-anchor="end" class="tl">160</text>
<text transform="translate(398.8,69.05) scale(1.045,1)" text-anchor="end" class="tl">180</text>
<text transform="translate(398.8,47.12) scale(1.045,1)" text-anchor="end" class="tl">200</text>
<text transform="translate(398.8,25.2) scale(1.045,1)" text-anchor="end" class="tl">220</text>
<text transform="translate(398.8,334.3) scale(1.045,1)" text-anchor="end" class="tl">0.5</text>
<text transform="translate(398.8,317.33) scale(1.045,1)" text-anchor="end" class="tl">0.75</text>
<text transform="translate(398.8,300.35) scale(1.045,1)" text-anchor="end" class="tl">1</text>
<text transform="translate(398.8,283.38) scale(1.045,1)" text-anchor="end" class="tl">1.25</text>
<text transform="translate(400.8,342.8) scale(1.045,1)" text-anchor="middle" class="tl">0</text>
<text transform="translate(424.06,342.8) scale(1.045,1)" text-anchor="middle" class="tl">0.2</text>
<text transform="translate(447.31,342.8) scale(1.045,1)" text-anchor="middle" class="tl">0.4</text>
<text transform="translate(470.57,342.8) scale(1.045,1)" text-anchor="middle" class="tl">0.6</text>
<text transform="translate(493.83,342.8) scale(1.045,1)" text-anchor="middle" class="tl">0.8</text>
<text transform="translate(517.09,342.8) scale(1.045,1)" text-anchor="middle" class="tl">1</text>
<text transform="translate(540.34,342.8) scale(1.045,1)" text-anchor="middle" class="tl">1.2</text>
<text transform="translate(563.6,342.8) scale(1.045,1)" text-anchor="middle" class="tl">1.4</text>
<text transform="translate(586.86,342.8) scale(1.045,1)" text-anchor="middle" class="tl">1.6</text>
<text transform="translate(610.12,342.8) scale(1.045,1)" text-anchor="middle" class="tl">1.8</text>
<text transform="translate(633.37,342.8) scale(1.045,1)" text-anchor="middle" class="tl">2</text>
<text transform="translate(656.63,342.8) scale(1.045,1)" text-anchor="middle" class="tl">2.2</text>
<text transform="translate(363.6,0.9) rotate(-90) scale(1.04,1)" text-anchor="end" class="at">Events / 0.20</text>
<text transform="translate(363.6,266.2) rotate(-90) scale(1.04,1)" text-anchor="end" class="at">Data / Pred.</text>
<text transform="translate(676.5,360.5) scale(1.035,1)" text-anchor="end" class="xt">|<tspan class="gr">&#951;</tspan>(<tspan class="gr">&#947;</tspan>)|</text>
<text x="414.8" y="23" class="atlas">ATLAS</text>
<text x="420.3" y="38.6" class="lt" xml:space="preserve">s = 13 TeV, 36.1  <tspan dx="1.2">fb</tspan><tspan dy="-4.2" font-size="7.5">-1</tspan></text>
<path d="M415.6,34.6 L417.9,38.7 L419.9,28.3 L426.2,28.3" stroke="#000" stroke-width="0.95" fill="none"/>
<text x="414.4" y="54.1" class="lt">Dilepton</text>
<text x="414.4" y="84.7" class="lt">Pre-fit</text>
<line x1="535" y1="11.3" x2="535" y2="20.5" stroke="#000" stroke-width="1.05"/><circle cx="535" cy="15.9" r="3.3"/>
<text x="543" y="19.2" class="lg">Data</text>
<rect x="597.5" y="10.3" width="11.8" height="11.3" fill="#ff0000"/>
<text x="611.4" y="19.2" class="lg">tt<tspan class="gr">&#947;</tspan></text>
<line x1="614.1" y1="11.6" x2="617.1" y2="11.6" stroke="#000" stroke-width="0.7"/>
<rect x="529.6" y="26.1" width="10.8" height="10.6" fill="#cc66ff" stroke="#000" stroke-width="1"/>
<text x="543" y="34.6" class="lg">Had-fake</text>
<rect x="598" y="26.1" width="10.8" height="10.6" fill="#660066" stroke="#000" stroke-width="1"/>
<text x="611.4" y="34.6" class="lg">e-fake</text>
<rect x="529.6" y="41.5" width="10.8" height="10.6" fill="#0000ff" stroke="#000" stroke-width="1"/>
<text x="543" y="50" class="lg">Z<tspan class="gr">&#947;</tspan></text>
<rect x="598" y="41.5" width="10.8" height="10.6" fill="#5cd65c" stroke="#000" stroke-width="1"/>
<text x="611.4" y="50" class="lg">Other prompt</text>
<rect x="529.1" y="56.5" width="11.8" height="11.3" fill="url(#hatch)"/>
<text x="543" y="65.4" class="lg">Uncertainty</text>
<text transform="translate(522.9,372.9) scale(1.07,1)" text-anchor="middle" class="pl">(b)</text>
<clipPath id="clipc"><rect x="48.6" y="414.3" width="275.6" height="260.5"/></clipPath>
<clipPath id="cliprc"><rect x="48.6" y="674.8" width="275.6" height="67.9"/></clipPath>
<g clip-path="url(#clipc)">
<path d="M48.6,674.8 L48.6,548.34 L59.62,548.34 L59.62,553.29 L70.65,553.29 L70.65,563.1 L81.67,563.1 L81.67,578.99 L92.7,578.99 L92.7,594.23 L103.72,594.23 L103.72,604.42 L114.74,604.42 L114.74,615.26 L125.77,615.26 L125.77,626.85 L136.79,626.85 L136.79,669.57 L324.2,669.57 L324.2,674.8 Z" fill="#ff0000"/>
<path d="M48.6,674.8 L48.6,666.95 L59.62,666.95 L59.62,662.65 L70.65,662.65 L70.65,656.01 L81.67,656.01 L81.67,664.8 L92.7,664.8 L92.7,664.05 L103.72,664.05 L103.72,663.21 L114.74,663.21 L114.74,661.9 L125.77,661.9 L125.77,662.65 L136.79,662.65 L136.79,673.58 L324.2,673.58 L324.2,674.8 Z" fill="#cc66ff" stroke="#000" stroke-width="0.8"/>
<path d="M48.6,674.8 L48.6,669.57 L59.62,669.57 L59.62,668.07 L70.65,668.07 L70.65,658.16 L81.67,658.16 L81.67,667.6 L92.7,667.6 L92.7,668.72 L103.72,668.72 L103.72,668.07 L114.74,668.07 L114.74,667.6 L125.77,667.6 L125.77,669.57 L136.79,669.57 L136.79,674.15 L324.2,674.15 L324.2,674.8 Z" fill="#0000ff" stroke="#000" stroke-width="0.8"/>
<path d="M48.6,674.8 L48.6,672.46 L59.62,672.46 L59.62,672.46 L70.65,672.46 L70.65,671.9 L81.67,671.9 L81.67,672.46 L92.7,672.46 L92.7,672.46 L103.72,672.46 L103.72,672.46 L114.74,672.46 L114.74,672.46 L125.77,672.46 L125.77,672.74 L136.79,672.74 L136.79,674.52 L324.2,674.52 L324.2,674.8 Z" fill="#660066" stroke="#000" stroke-width="0.8"/>
<path d="M48.6,674.8 L48.6,672.65 L59.62,672.65 L59.62,672.65 L70.65,672.65 L70.65,672.09 L81.67,672.09 L81.67,672.65 L92.7,672.65 L92.7,672.65 L103.72,672.65 L103.72,672.65 L114.74,672.65 L114.74,672.65 L125.77,672.65 L125.77,672.93 L136.79,672.93 L136.79,674.52 L324.2,674.52 L324.2,674.8 Z" fill="#5cd65c" stroke="#000" stroke-width="0.8"/>
<rect x="48.6" y="541.79" width="11.02" height="13.09" fill="url(#hatch)"/>
<rect x="59.62" y="545.06" width="11.02" height="16.45" fill="url(#hatch)"/>
<rect x="70.65" y="544.78" width="11.02" height="36.64" fill="url(#hatch)"/>
<rect x="81.67" y="570.58" width="11.02" height="16.82" fill="url(#hatch)"/>
<rect x="92.7" y="588.62" width="11.02" height="11.22" fill="url(#hatch)"/>
<rect x="103.72" y="597.59" width="11.02" height="13.65" fill="url(#hatch)"/>
<rect x="114.74" y="610.12" width="11.02" height="10.28" fill="url(#hatch)"/>
<rect x="125.77" y="621.34" width="11.02" height="11.03" fill="url(#hatch)"/>
<rect x="136.79" y="668.35" width="187.41" height="2.43" fill="url(#hatch)"/>
<line x1="54.5" y1="531.04" x2="54.5" y2="551.23" stroke="#000" stroke-width="1.05"/>
<circle cx="54.5" cy="541.14" r="3.1" fill="#000"/>
<line x1="65.5" y1="540.58" x2="65.5" y2="561.7" stroke="#000" stroke-width="1.05"/>
<circle cx="65.5" cy="551.14" r="3.1" fill="#000"/>
<line x1="76.5" y1="566.38" x2="76.5" y2="585.44" stroke="#000" stroke-width="1.05"/>
<circle cx="76.5" cy="575.91" r="3.1" fill="#000"/>
<line x1="87.5" y1="558.15" x2="87.5" y2="578.34" stroke="#000" stroke-width="1.05"/>
<circle cx="87.5" cy="568.24" r="3.1" fill="#000"/>
<line x1="98.5" y1="582.73" x2="98.5" y2="601.24" stroke="#000" stroke-width="1.05"/>
<circle cx="98.5" cy="591.99" r="3.1" fill="#000"/>
<line x1="109.5" y1="583.11" x2="109.5" y2="601.61" stroke="#000" stroke-width="1.05"/>
<circle cx="109.5" cy="592.36" r="3.1" fill="#000"/>
<line x1="120.5" y1="601.43" x2="120.5" y2="617.32" stroke="#000" stroke-width="1.05"/>
<circle cx="120.5" cy="609.37" r="3.1" fill="#000"/>
<line x1="131.5" y1="631.8" x2="131.5" y2="643.77" stroke="#000" stroke-width="1.05"/>
<circle cx="131.5" cy="637.79" r="3.1" fill="#000"/>
<line x1="230.5" y1="667.98" x2="230.5" y2="669.29" stroke="#000" stroke-width="1.05"/>
<circle cx="230.5" cy="668.63" r="3.1" fill="#000"/>
</g>
<line x1="48.6" y1="708.95" x2="324.2" y2="708.95" stroke="#222" stroke-width="1.1" stroke-dasharray="1.9,1.8"/>
<line x1="54.5" y1="699.47" x2="54.5" y2="710.31" stroke="#000" stroke-width="1.05"/>
<circle cx="54.5" cy="704.89" r="3.1" fill="#000"/>
<line x1="65.5" y1="701.65" x2="65.5" y2="713.45" stroke="#000" stroke-width="1.05"/>
<circle cx="65.5" cy="707.55" r="3.1" fill="#000"/>
<line x1="76.5" y1="710.74" x2="76.5" y2="722.33" stroke="#000" stroke-width="1.05"/>
<circle cx="76.5" cy="716.53" r="3.1" fill="#000"/>
<line x1="87.5" y1="693.98" x2="87.5" y2="708.29" stroke="#000" stroke-width="1.05"/>
<circle cx="87.5" cy="701.13" r="3.1" fill="#000"/>
<line x1="98.5" y1="699.06" x2="98.5" y2="714.66" stroke="#000" stroke-width="1.05"/>
<circle cx="98.5" cy="706.86" r="3.1" fill="#000"/>
<line x1="109.5" y1="688.19" x2="109.5" y2="706.04" stroke="#000" stroke-width="1.05"/>
<circle cx="109.5" cy="697.12" r="3.1" fill="#000"/>
<line x1="120.5" y1="692.97" x2="120.5" y2="711.1" stroke="#000" stroke-width="1.05"/>
<circle cx="120.5" cy="702.03" r="3.1" fill="#000"/>
<line x1="131.5" y1="715.77" x2="131.5" y2="732.71" stroke="#000" stroke-width="1.05"/>
<circle cx="131.5" cy="724.24" r="3.1" fill="#000"/>
<line x1="230.5" y1="688.14" x2="230.5" y2="705.11" stroke="#000" stroke-width="1.05"/>
<circle cx="230.5" cy="696.62" r="3.1" fill="#000"/>
<rect x="48.6" y="705.24" width="11.02" height="7.03" fill="url(#hatch)"/>
<rect x="59.62" y="704.15" width="11.02" height="9.19" fill="url(#hatch)"/>
<rect x="70.65" y="697.61" width="11.02" height="22.27" fill="url(#hatch)"/>
<rect x="81.67" y="702.79" width="11.02" height="11.92" fill="url(#hatch)"/>
<rect x="92.7" y="704.02" width="11.02" height="9.45" fill="url(#hatch)"/>
<rect x="103.72" y="702.17" width="11.02" height="13.17" fill="url(#hatch)"/>
<rect x="114.74" y="702.89" width="11.02" height="11.73" fill="url(#hatch)"/>
<rect x="125.77" y="700.94" width="11.02" height="15.62" fill="url(#hatch)"/>
<rect x="136.79" y="692.99" width="187.41" height="31.52" fill="url(#hatch)"/>
<path d="M48.5,414.5H324.5V742.5H48.5Z M48.5,674.5H324.5" fill="none" stroke="#000" stroke-width="1"/>
<path d="M48.5,674.5h8.5M324.5,674.5h-8.5M48.5,665.5h4.2M324.5,665.5h-4.2M48.5,656.5h4.2M324.5,656.5h-4.2M48.5,646.5h4.2M324.5,646.5h-4.2M48.5,637.5h4.2M324.5,637.5h-4.2M48.5,628.5h8.5M324.5,628.5h-8.5M48.5,618.5h4.2M324.5,618.5h-4.2M48.5,609.5h4.2M324.5,609.5h-4.2M48.5,600.5h4.2M324.5,600.5h-4.2M48.5,590.5h4.2M324.5,590.5h-4.2M48.5,581.5h8.5M324.5,581.5h-8.5M48.5,571.5h4.2M324.5,571.5h-4.2M48.5,562.5h4.2M324.5,562.5h-4.2M48.5,553.5h4.2M324.5,553.5h-4.2M48.5,543.5h4.2M324.5,543.5h-4.2M48.5,534.5h8.5M324.5,534.5h-8.5M48.5,525.5h4.2M324.5,525.5h-4.2M48.5,515.5h4.2M324.5,515.5h-4.2M48.5,506.5h4.2M324.5,506.5h-4.2M48.5,497.5h4.2M324.5,497.5h-4.2M48.5,487.5h8.5M324.5,487.5h-8.5M48.5,478.5h4.2M324.5,478.5h-4.2M48.5,469.5h4.2M324.5,469.5h-4.2M48.5,459.5h4.2M324.5,459.5h-4.2M48.5,450.5h4.2M324.5,450.5h-4.2M48.5,441.5h8.5M324.5,441.5h-8.5M48.5,431.5h4.2M324.5,431.5h-4.2M48.5,422.5h4.2M324.5,422.5h-4.2M48.5,742.5h6.7M324.5,742.5h-6.7M48.5,739.5h3.3M324.5,739.5h-3.3M48.5,735.5h3.3M324.5,735.5h-3.3M48.5,732.5h3.3M324.5,732.5h-3.3M48.5,729.5h3.3M324.5,729.5h-3.3M48.5,725.5h6.7M324.5,725.5h-6.7M48.5,722.5h3.3M324.5,722.5h-3.3M48.5,718.5h3.3M324.5,718.5h-3.3M48.5,715.5h3.3M324.5,715.5h-3.3M48.5,712.5h3.3M324.5,712.5h-3.3M48.5,708.5h6.7M324.5,708.5h-6.7M48.5,705.5h3.3M324.5,705.5h-3.3M48.5,701.5h3.3M324.5,701.5h-3.3M48.5,698.5h3.3M324.5,698.5h-3.3M48.5,695.5h3.3M324.5,695.5h-3.3M48.5,691.5h6.7M324.5,691.5h-6.7M48.5,688.5h3.3M324.5,688.5h-3.3M48.5,684.5h3.3M324.5,684.5h-3.3M48.5,681.5h3.3M324.5,681.5h-3.3M48.5,678.5h3.3M324.5,678.5h-3.3M48.5,674.5h6.7M324.5,674.5h-6.7M48.5,414.5v7.7M48.5,674.5v-7.7M48.5,674.5v3.3M48.5,742.5v-3.3M54.5,414.5v4.0M54.5,674.5v-4.0M54.5,674.5v1.7M54.5,742.5v-1.7M59.5,414.5v4.0M59.5,674.5v-4.0M59.5,674.5v1.7M59.5,742.5v-1.7M65.5,414.5v4.0M65.5,674.5v-4.0M65.5,674.5v1.7M65.5,742.5v-1.7M70.5,414.5v4.0M70.5,674.5v-4.0M70.5,674.5v1.7M70.5,742.5v-1.7M76.5,414.5v7.7M76.5,674.5v-7.7M76.5,674.5v3.3M76.5,742.5v-3.3M81.5,414.5v4.0M81.5,674.5v-4.0M81.5,674.5v1.7M81.5,742.5v-1.7M87.5,414.5v4.0M87.5,674.5v-4.0M87.5,674.5v1.7M87.5,742.5v-1.7M92.5,414.5v4.0M92.5,674.5v-4.0M92.5,674.5v1.7M92.5,742.5v-1.7M98.5,414.5v4.0M98.5,674.5v-4.0M98.5,674.5v1.7M98.5,742.5v-1.7M103.5,414.5v7.7M103.5,674.5v-7.7M103.5,674.5v3.3M103.5,742.5v-3.3M109.5,414.5v4.0M109.5,674.5v-4.0M109.5,674.5v1.7M109.5,742.5v-1.7M114.5,414.5v4.0M114.5,674.5v-4.0M114.5,674.5v1.7M114.5,742.5v-1.7M120.5,414.5v4.0M120.5,674.5v-4.0M120.5,674.5v1.7M120.5,742.5v-1.7M125.5,414.5v4.0M125.5,674.5v-4.0M125.5,674.5v1.7M125.5,742.5v-1.7M131.5,414.5v7.7M131.5,674.5v-7.7M131.5,674.5v3.3M131.5,742.5v-3.3M136.5,414.5v4.0M136.5,674.5v-4.0M136.5,674.5v1.7M136.5,742.5v-1.7M142.5,414.5v4.0M142.5,674.5v-4.0M142.5,674.5v1.7M142.5,742.5v-1.7M147.5,414.5v4.0M147.5,674.5v-4.0M147.5,674.5v1.7M147.5,742.5v-1.7M153.5,414.5v4.0M153.5,674.5v-4.0M153.5,674.5v1.7M153.5,742.5v-1.7M158.5,414.5v7.7M158.5,674.5v-7.7M158.5,674.5v3.3M158.5,742.5v-3.3M164.5,414.5v4.0M164.5,674.5v-4.0M164.5,674.5v1.7M164.5,742.5v-1.7M169.5,414.5v4.0M169.5,674.5v-4.0M169.5,674.5v1.7M169.5,742.5v-1.7M175.5,414.5v4.0M175.5,674.5v-4.0M175.5,674.5v1.7M175.5,742.5v-1.7M180.5,414.5v4.0M180.5,674.5v-4.0M180.5,674.5v1.7M180.5,742.5v-1.7M186.5,414.5v7.7M186.5,674.5v-7.7M186.5,674.5v3.3M186.5,742.5v-3.3M191.5,414.5v4.0M191.5,674.5v-4.0M191.5,674.5v1.7M191.5,742.5v-1.7M197.5,414.5v4.0M197.5,674.5v-4.0M197.5,674.5v1.7M197.5,742.5v-1.7M202.5,414.5v4.0M202.5,674.5v-4.0M202.5,674.5v1.7M202.5,742.5v-1.7M208.5,414.5v4.0M208.5,674.5v-4.0M208.5,674.5v1.7M208.5,742.5v-1.7M213.5,414.5v7.7M213.5,674.5v-7.7M213.5,674.5v3.3M213.5,742.5v-3.3M219.5,414.5v4.0M219.5,674.5v-4.0M219.5,674.5v1.7M219.5,742.5v-1.7M224.5,414.5v4.0M224.5,674.5v-4.0M224.5,674.5v1.7M224.5,742.5v-1.7M230.5,414.5v4.0M230.5,674.5v-4.0M230.5,674.5v1.7M230.5,742.5v-1.7M236.5,414.5v4.0M236.5,674.5v-4.0M236.5,674.5v1.7M236.5,742.5v-1.7M241.5,414.5v7.7M241.5,674.5v-7.7M241.5,674.5v3.3M241.5,742.5v-3.3M247.5,414.5v4.0M247.5,674.5v-4.0M247.5,674.5v1.7M247.5,742.5v-1.7M252.5,414.5v4.0M252.5,674.5v-4.0M252.5,674.5v1.7M252.5,742.5v-1.7M258.5,414.5v4.0M258.5,674.5v-4.0M258.5,674.5v1.7M258.5,742.5v-1.7M263.5,414.5v4.0M263.5,674.5v-4.0M263.5,674.5v1.7M263.5,742.5v-1.7M269.5,414.5v7.7M269.5,674.5v-7.7M269.5,674.5v3.3M269.5,742.5v-3.3M274.5,414.5v4.0M274.5,674.5v-4.0M274.5,674.5v1.7M274.5,742.5v-1.7M280.5,414.5v4.0M280.5,674.5v-4.0M280.5,674.5v1.7M280.5,742.5v-1.7M285.5,414.5v4.0M285.5,674.5v-4.0M285.5,674.5v1.7M285.5,742.5v-1.7M291.5,414.5v4.0M291.5,674.5v-4.0M291.5,674.5v1.7M291.5,742.5v-1.7M296.5,414.5v7.7M296.5,674.5v-7.7M296.5,674.5v3.3M296.5,742.5v-3.3M302.5,414.5v4.0M302.5,674.5v-4.0M302.5,674.5v1.7M302.5,742.5v-1.7M307.5,414.5v4.0M307.5,674.5v-4.0M307.5,674.5v1.7M307.5,742.5v-1.7M313.5,414.5v4.0M313.5,674.5v-4.0M313.5,674.5v1.7M313.5,742.5v-1.7M318.5,414.5v4.0M318.5,674.5v-4.0M318.5,674.5v1.7M318.5,742.5v-1.7M324.5,414.5v7.7M324.5,674.5v-7.7M324.5,674.5v3.3M324.5,742.5v-3.3" stroke="#000" stroke-width="1" fill="none"/>
<text transform="translate(46.6,678.9) scale(1.045,1)" text-anchor="end" class="tl">0</text>
<text transform="translate(46.6,632.17) scale(1.045,1)" text-anchor="end" class="tl">50</text>
<text transform="translate(46.6,585.43) scale(1.045,1)" text-anchor="end" class="tl">100</text>
<text transform="translate(46.6,538.7) scale(1.045,1)" text-anchor="end" class="tl">150</text>
<text transform="translate(46.6,491.96) scale(1.045,1)" text-anchor="end" class="tl">200</text>
<text transform="translate(46.6,445.23) scale(1.045,1)" text-anchor="end" class="tl">250</text>
<text transform="translate(46.6,746.8) scale(1.045,1)" text-anchor="end" class="tl">0.5</text>
<text transform="translate(46.6,729.82) scale(1.045,1)" text-anchor="end" class="tl">0.75</text>
<text transform="translate(46.6,712.85) scale(1.045,1)" text-anchor="end" class="tl">1</text>
<text transform="translate(46.6,695.88) scale(1.045,1)" text-anchor="end" class="tl">1.25</text>
<text transform="translate(48.6,755.3) scale(1.045,1)" text-anchor="middle" class="tl">1</text>
<text transform="translate(76.16,755.3) scale(1.045,1)" text-anchor="middle" class="tl">1.5</text>
<text transform="translate(103.72,755.3) scale(1.045,1)" text-anchor="middle" class="tl">2</text>
<text transform="translate(131.28,755.3) scale(1.045,1)" text-anchor="middle" class="tl">2.5</text>
<text transform="translate(158.84,755.3) scale(1.045,1)" text-anchor="middle" class="tl">3</text>
<text transform="translate(186.4,755.3) scale(1.045,1)" text-anchor="middle" class="tl">3.5</text>
<text transform="translate(213.96,755.3) scale(1.045,1)" text-anchor="middle" class="tl">4</text>
<text transform="translate(241.52,755.3) scale(1.045,1)" text-anchor="middle" class="tl">4.5</text>
<text transform="translate(269.08,755.3) scale(1.045,1)" text-anchor="middle" class="tl">5</text>
<text transform="translate(296.64,755.3) scale(1.045,1)" text-anchor="middle" class="tl">5.5</text>
<text transform="translate(324.2,755.3) scale(1.045,1)" text-anchor="middle" class="tl">6</text>
<text transform="translate(11.4,413.4) rotate(-90) scale(1.04,1)" text-anchor="end" class="at">Events / 0.20</text>
<text transform="translate(11.4,678.7) rotate(-90) scale(1.04,1)" text-anchor="end" class="at">Data / Pred.</text>
<text transform="translate(329.0,772.8) scale(1.035,1)" text-anchor="end" class="xt"><tspan class="gr">&#916;</tspan>R(<tspan class="gr">&#947;</tspan>,l)<tspan dy="5" class="sub">min</tspan></text>
<text x="62.6" y="435.5" class="atlas">ATLAS</text>
<text x="68.1" y="451.1" class="lt" xml:space="preserve">s = 13 TeV, 36.1  <tspan dx="1.2">fb</tspan><tspan dy="-4.2" font-size="7.5">-1</tspan></text>
<path d="M63.4,447.1 L65.7,451.2 L67.7,440.8 L74,440.8" stroke="#000" stroke-width="0.95" fill="none"/>
<text x="62.2" y="466.6" class="lt">Dilepton</text>
<text x="62.2" y="497.2" class="lt">Pre-fit</text>
<line x1="182.8" y1="423.8" x2="182.8" y2="433" stroke="#000" stroke-width="1.05"/><circle cx="182.8" cy="428.4" r="3.3"/>
<text x="190.8" y="431.7" class="lg">Data</text>
<rect x="245.3" y="422.8" width="11.8" height="11.3" fill="#ff0000"/>
<text x="259.2" y="431.7" class="lg">tt<tspan class="gr">&#947;</tspan></text>
<line x1="261.9" y1="424.1" x2="264.9" y2="424.1" stroke="#000" stroke-width="0.7"/>
<rect x="177.4" y="438.6" width="10.8" height="10.6" fill="#cc66ff" stroke="#000" stroke-width="1"/>
<text x="190.8" y="447.1" class="lg">Had-fake</text>
<rect x="245.8" y="438.6" width="10.8" height="10.6" fill="#660066" stroke="#000" stroke-width="1"/>
<text x="259.2" y="447.1" class="lg">e-fake</text>
<rect x="177.4" y="454" width="10.8" height="10.6" fill="#0000ff" stroke="#000" stroke-width="1"/>
<text x="190.8" y="462.5" class="lg">Z<tspan class="gr">&#947;</tspan></text>
<rect x="245.8" y="454" width="10.8" height="10.6" fill="#5cd65c" stroke="#000" stroke-width="1"/>
<text x="259.2" y="462.5" class="lg">Other prompt</text>
<rect x="176.9" y="469" width="11.8" height="11.3" fill="url(#hatch)"/>
<text x="190.8" y="477.9" class="lg">Uncertainty</text>
<text transform="translate(178.4,792.3) scale(1.07,1)" text-anchor="middle" class="pl">(c)</text>
<clipPath id="clipd"><rect x="400.9" y="414.3" width="275.6" height="260.5"/></clipPath>
<clipPath id="cliprd"><rect x="400.9" y="674.8" width="275.6" height="67.9"/></clipPath>
<g clip-path="url(#clipd)">
<path d="M400.9,674.8 L400.9,557.81 L422.95,557.81 L422.95,532.46 L445,532.46 L445,562.18 L467.04,562.18 L467.04,558.25 L489.09,558.25 L489.09,565.09 L511.14,565.09 L511.14,569.75 L533.19,569.75 L533.19,582.72 L588.31,582.72 L588.31,593.07 L676.5,593.07 L676.5,674.8 Z" fill="#ff0000"/>
<path d="M400.9,674.8 L400.9,651.34 L422.95,651.34 L422.95,630.51 L445,630.51 L445,656.44 L467.04,656.44 L467.04,653.53 L489.09,653.53 L489.09,658.63 L511.14,658.63 L511.14,658.63 L533.19,658.63 L533.19,656.15 L588.31,656.15 L588.31,669.41 L676.5,669.41 L676.5,674.8 Z" fill="#cc66ff" stroke="#000" stroke-width="0.8"/>
<path d="M400.9,674.8 L400.9,661.83 L422.95,661.83 L422.95,639.98 L445,639.98 L445,657.03 L467.04,657.03 L467.04,662.42 L489.09,662.42 L489.09,666.35 L511.14,666.35 L511.14,665.91 L533.19,665.91 L533.19,661.83 L588.31,661.83 L588.31,671.59 L676.5,671.59 L676.5,674.8 Z" fill="#0000ff" stroke="#000" stroke-width="0.8"/>
<path d="M400.9,674.8 L400.9,671.01 L422.95,671.01 L422.95,671.01 L445,671.01 L445,671.01 L467.04,671.01 L467.04,671.01 L489.09,671.01 L489.09,671.16 L511.14,671.16 L511.14,671.16 L533.19,671.16 L533.19,671.59 L588.31,671.59 L588.31,673.34 L676.5,673.34 L676.5,674.8 Z" fill="#660066" stroke="#000" stroke-width="0.8"/>
<path d="M400.9,674.8 L400.9,671.3 L422.95,671.3 L422.95,671.3 L445,671.3 L445,671.3 L467.04,671.3 L467.04,671.3 L489.09,671.3 L489.09,671.45 L511.14,671.45 L511.14,671.45 L533.19,671.45 L533.19,671.89 L588.31,671.89 L588.31,673.63 L676.5,673.63 L676.5,674.8 Z" fill="#5cd65c" stroke="#000" stroke-width="0.8"/>
<rect x="400.9" y="545.72" width="22.05" height="24.19" fill="url(#hatch)"/>
<rect x="422.95" y="502.3" width="22.05" height="60.32" fill="url(#hatch)"/>
<rect x="445" y="546.59" width="22.05" height="31.18" fill="url(#hatch)"/>
<rect x="467.04" y="545.13" width="22.05" height="26.22" fill="url(#hatch)"/>
<rect x="489.09" y="555.04" width="22.05" height="20.11" fill="url(#hatch)"/>
<rect x="511.14" y="560.43" width="22.05" height="18.65" fill="url(#hatch)"/>
<rect x="533.19" y="569.9" width="55.12" height="25.64" fill="url(#hatch)"/>
<rect x="588.31" y="588.19" width="88.19" height="9.76" fill="url(#hatch)"/>
<line x1="411.5" y1="534.5" x2="411.5" y2="561.3" stroke="#000" stroke-width="1.05"/>
<circle cx="411.5" cy="547.9" r="3.1" fill="#000"/>
<line x1="433.5" y1="530.85" x2="433.5" y2="558.54" stroke="#000" stroke-width="1.05"/>
<circle cx="433.5" cy="544.7" r="3.1" fill="#000"/>
<line x1="456.5" y1="553.15" x2="456.5" y2="577.91" stroke="#000" stroke-width="1.05"/>
<circle cx="456.5" cy="565.53" r="3.1" fill="#000"/>
<line x1="478.5" y1="529.69" x2="478.5" y2="557.37" stroke="#000" stroke-width="1.05"/>
<circle cx="478.5" cy="543.53" r="3.1" fill="#000"/>
<line x1="500.5" y1="549.94" x2="500.5" y2="575.29" stroke="#000" stroke-width="1.05"/>
<circle cx="500.5" cy="562.62" r="3.1" fill="#000"/>
<line x1="522.5" y1="532.75" x2="522.5" y2="560.14" stroke="#000" stroke-width="1.05"/>
<circle cx="522.5" cy="546.44" r="3.1" fill="#000"/>
<line x1="560.5" y1="574.85" x2="560.5" y2="589.42" stroke="#000" stroke-width="1.05"/>
<circle cx="560.5" cy="582.14" r="3.1" fill="#000"/>
<line x1="632.5" y1="581.99" x2="632.5" y2="594.52" stroke="#000" stroke-width="1.05"/>
<circle cx="632.5" cy="588.26" r="3.1" fill="#000"/>
</g>
<line x1="400.9" y1="708.95" x2="676.5" y2="708.95" stroke="#222" stroke-width="1.1" stroke-dasharray="1.9,1.8"/>
<line x1="411.5" y1="695.22" x2="411.5" y2="710.78" stroke="#000" stroke-width="1.05"/>
<circle cx="411.5" cy="703" r="3.1" fill="#000"/>
<line x1="433.5" y1="707.99" x2="433.5" y2="721.19" stroke="#000" stroke-width="1.05"/>
<circle cx="433.5" cy="714.59" r="3.1" fill="#000"/>
<line x1="456.5" y1="703.3" x2="456.5" y2="718.24" stroke="#000" stroke-width="1.05"/>
<circle cx="456.5" cy="710.77" r="3.1" fill="#000"/>
<line x1="478.5" y1="692.11" x2="478.5" y2="708.24" stroke="#000" stroke-width="1.05"/>
<circle cx="478.5" cy="700.18" r="3.1" fill="#000"/>
<line x1="500.5" y1="699.37" x2="500.5" y2="715.06" stroke="#000" stroke-width="1.05"/>
<circle cx="500.5" cy="707.22" r="3.1" fill="#000"/>
<line x1="522.5" y1="684.83" x2="522.5" y2="702.53" stroke="#000" stroke-width="1.05"/>
<circle cx="522.5" cy="693.68" r="3.1" fill="#000"/>
<line x1="560.5" y1="702.95" x2="560.5" y2="713.69" stroke="#000" stroke-width="1.05"/>
<circle cx="560.5" cy="708.32" r="3.1" fill="#000"/>
<line x1="632.5" y1="699.55" x2="632.5" y2="709.96" stroke="#000" stroke-width="1.05"/>
<circle cx="632.5" cy="704.76" r="3.1" fill="#000"/>
<rect x="400.9" y="701.73" width="22.05" height="14.04" fill="url(#hatch)"/>
<rect x="422.95" y="694.36" width="22.05" height="28.77" fill="url(#hatch)"/>
<rect x="445" y="699.35" width="22.05" height="18.8" fill="url(#hatch)"/>
<rect x="467.04" y="701.11" width="22.05" height="15.28" fill="url(#hatch)"/>
<rect x="489.09" y="702.53" width="22.05" height="12.44" fill="url(#hatch)"/>
<rect x="511.14" y="702.72" width="22.05" height="12.05" fill="url(#hatch)"/>
<rect x="533.19" y="699.3" width="55.12" height="18.91" fill="url(#hatch)"/>
<rect x="588.31" y="704.7" width="88.19" height="8.11" fill="url(#hatch)"/>
<path d="M400.5,414.5H676.5V742.5H400.5Z M400.5,674.5H676.5" fill="none" stroke="#000" stroke-width="1"/>
<path d="M400.5,674.5h8.5M676.5,674.5h-8.5M400.5,667.5h4.2M676.5,667.5h-4.2M400.5,660.5h4.2M676.5,660.5h-4.2M400.5,652.5h4.2M676.5,652.5h-4.2M400.5,645.5h8.5M676.5,645.5h-8.5M400.5,638.5h4.2M676.5,638.5h-4.2M400.5,631.5h4.2M676.5,631.5h-4.2M400.5,623.5h4.2M676.5,623.5h-4.2M400.5,616.5h8.5M676.5,616.5h-8.5M400.5,609.5h4.2M676.5,609.5h-4.2M400.5,601.5h4.2M676.5,601.5h-4.2M400.5,594.5h4.2M676.5,594.5h-4.2M400.5,587.5h8.5M676.5,587.5h-8.5M400.5,580.5h4.2M676.5,580.5h-4.2M400.5,572.5h4.2M676.5,572.5h-4.2M400.5,565.5h4.2M676.5,565.5h-4.2M400.5,558.5h8.5M676.5,558.5h-8.5M400.5,550.5h4.2M676.5,550.5h-4.2M400.5,543.5h4.2M676.5,543.5h-4.2M400.5,536.5h4.2M676.5,536.5h-4.2M400.5,529.5h8.5M676.5,529.5h-8.5M400.5,521.5h4.2M676.5,521.5h-4.2M400.5,514.5h4.2M676.5,514.5h-4.2M400.5,507.5h4.2M676.5,507.5h-4.2M400.5,499.5h8.5M676.5,499.5h-8.5M400.5,492.5h4.2M676.5,492.5h-4.2M400.5,485.5h4.2M676.5,485.5h-4.2M400.5,478.5h4.2M676.5,478.5h-4.2M400.5,470.5h8.5M676.5,470.5h-8.5M400.5,463.5h4.2M676.5,463.5h-4.2M400.5,456.5h4.2M676.5,456.5h-4.2M400.5,448.5h4.2M676.5,448.5h-4.2M400.5,441.5h8.5M676.5,441.5h-8.5M400.5,434.5h4.2M676.5,434.5h-4.2M400.5,427.5h4.2M676.5,427.5h-4.2M400.5,419.5h4.2M676.5,419.5h-4.2M400.5,742.5h6.7M676.5,742.5h-6.7M400.5,739.5h3.3M676.5,739.5h-3.3M400.5,735.5h3.3M676.5,735.5h-3.3M400.5,732.5h3.3M676.5,732.5h-3.3M400.5,729.5h3.3M676.5,729.5h-3.3M400.5,725.5h6.7M676.5,725.5h-6.7M400.5,722.5h3.3M676.5,722.5h-3.3M400.5,718.5h3.3M676.5,718.5h-3.3M400.5,715.5h3.3M676.5,715.5h-3.3M400.5,712.5h3.3M676.5,712.5h-3.3M400.5,708.5h6.7M676.5,708.5h-6.7M400.5,705.5h3.3M676.5,705.5h-3.3M400.5,701.5h3.3M676.5,701.5h-3.3M400.5,698.5h3.3M676.5,698.5h-3.3M400.5,695.5h3.3M676.5,695.5h-3.3M400.5,691.5h6.7M676.5,691.5h-6.7M400.5,688.5h3.3M676.5,688.5h-3.3M400.5,684.5h3.3M676.5,684.5h-3.3M400.5,681.5h3.3M676.5,681.5h-3.3M400.5,678.5h3.3M676.5,678.5h-3.3M400.5,674.5h6.7M676.5,674.5h-6.7M400.5,414.5v7.7M400.5,674.5v-7.7M400.5,674.5v3.3M400.5,742.5v-3.3M411.5,414.5v4.0M411.5,674.5v-4.0M411.5,674.5v1.7M411.5,742.5v-1.7M422.5,414.5v4.0M422.5,674.5v-4.0M422.5,674.5v1.7M422.5,742.5v-1.7M433.5,414.5v4.0M433.5,674.5v-4.0M433.5,674.5v1.7M433.5,742.5v-1.7M444.5,414.5v4.0M444.5,674.5v-4.0M444.5,674.5v1.7M444.5,742.5v-1.7M456.5,414.5v7.7M456.5,674.5v-7.7M456.5,674.5v3.3M456.5,742.5v-3.3M467.5,414.5v4.0M467.5,674.5v-4.0M467.5,674.5v1.7M467.5,742.5v-1.7M478.5,414.5v4.0M478.5,674.5v-4.0M478.5,674.5v1.7M478.5,742.5v-1.7M489.5,414.5v4.0M489.5,674.5v-4.0M489.5,674.5v1.7M489.5,742.5v-1.7M500.5,414.5v4.0M500.5,674.5v-4.0M500.5,674.5v1.7M500.5,742.5v-1.7M511.5,414.5v7.7M511.5,674.5v-7.7M511.5,674.5v3.3M511.5,742.5v-3.3M522.5,414.5v4.0M522.5,674.5v-4.0M522.5,674.5v1.7M522.5,742.5v-1.7M533.5,414.5v4.0M533.5,674.5v-4.0M533.5,674.5v1.7M533.5,742.5v-1.7M544.5,414.5v4.0M544.5,674.5v-4.0M544.5,674.5v1.7M544.5,742.5v-1.7M555.5,414.5v4.0M555.5,674.5v-4.0M555.5,674.5v1.7M555.5,742.5v-1.7M566.5,414.5v7.7M566.5,674.5v-7.7M566.5,674.5v3.3M566.5,742.5v-3.3M577.5,414.5v4.0M577.5,674.5v-4.0M577.5,674.5v1.7M577.5,742.5v-1.7M588.5,414.5v4.0M588.5,674.5v-4.0M588.5,674.5v1.7M588.5,742.5v-1.7M599.5,414.5v4.0M599.5,674.5v-4.0M599.5,674.5v1.7M599.5,742.5v-1.7M610.5,414.5v4.0M610.5,674.5v-4.0M610.5,674.5v1.7M610.5,742.5v-1.7M621.5,414.5v7.7M621.5,674.5v-7.7M621.5,674.5v3.3M621.5,742.5v-3.3M632.5,414.5v4.0M632.5,674.5v-4.0M632.5,674.5v1.7M632.5,742.5v-1.7M643.5,414.5v4.0M643.5,674.5v-4.0M643.5,674.5v1.7M643.5,742.5v-1.7M654.5,414.5v4.0M654.5,674.5v-4.0M654.5,674.5v1.7M654.5,742.5v-1.7M665.5,414.5v4.0M665.5,674.5v-4.0M665.5,674.5v1.7M665.5,742.5v-1.7M676.5,414.5v7.7M676.5,674.5v-7.7M676.5,674.5v3.3M676.5,742.5v-3.3" stroke="#000" stroke-width="1" fill="none"/>
<text transform="translate(398.9,678.9) scale(1.045,1)" text-anchor="end" class="tl">0</text>
<text transform="translate(398.9,649.76) scale(1.045,1)" text-anchor="end" class="tl">20</text>
<text transform="translate(398.9,620.62) scale(1.045,1)" text-anchor="end" class="tl">40</text>
<text transform="translate(398.9,591.48) scale(1.045,1)" text-anchor="end" class="tl">60</text>
<text transform="translate(398.9,562.35) scale(1.045,1)" text-anchor="end" class="tl">80</text>
<text transform="translate(398.9,533.21) scale(1.045,1)" text-anchor="end" class="tl">100</text>
<text transform="translate(398.9,504.07) scale(1.045,1)" text-anchor="end" class="tl">120</text>
<text transform="translate(398.9,474.93) scale(1.045,1)" text-anchor="end" class="tl">140</text>
<text transform="translate(398.9,445.79) scale(1.045,1)" text-anchor="end" class="tl">160</text>
<text transform="translate(398.9,746.8) scale(1.045,1)" text-anchor="end" class="tl">0.5</text>
<text transform="translate(398.9,729.82) scale(1.045,1)" text-anchor="end" class="tl">0.75</text>
<text transform="translate(398.9,712.85) scale(1.045,1)" text-anchor="end" class="tl">1</text>
<text transform="translate(398.9,695.88) scale(1.045,1)" text-anchor="end" class="tl">1.25</text>
<text transform="translate(400.9,755.3) scale(1.045,1)" text-anchor="middle" class="tl">0</text>
<text transform="translate(456.02,755.3) scale(1.045,1)" text-anchor="middle" class="tl">0.5</text>
<text transform="translate(511.14,755.3) scale(1.045,1)" text-anchor="middle" class="tl">1</text>
<text transform="translate(566.26,755.3) scale(1.045,1)" text-anchor="middle" class="tl">1.5</text>
<text transform="translate(621.38,755.3) scale(1.045,1)" text-anchor="middle" class="tl">2</text>
<text transform="translate(676.5,755.3) scale(1.045,1)" text-anchor="middle" class="tl">2.5</text>
<text transform="translate(363.7,413.4) rotate(-90) scale(1.04,1)" text-anchor="end" class="at">Events / 0.20</text>
<text transform="translate(363.7,678.7) rotate(-90) scale(1.04,1)" text-anchor="end" class="at">Data / Pred.</text>
<text transform="translate(680.0,772.8) scale(1.035,1)" text-anchor="end" class="xt">|<tspan class="gr">&#916;</tspan><tspan class="gr">&#951;</tspan>(l,l)|</text>
<text x="414.9" y="435.5" class="atlas">ATLAS</text>
<text x="420.4" y="451.1" class="lt" xml:space="preserve">s = 13 TeV, 36.1  <tspan dx="1.2">fb</tspan><tspan dy="-4.2" font-size="7.5">-1</tspan></text>
<path d="M415.7,447.1 L418,451.2 L420,440.8 L426.3,440.8" stroke="#000" stroke-width="0.95" fill="none"/>
<text x="414.5" y="466.6" class="lt">Dilepton</text>
<text x="414.5" y="497.2" class="lt">Pre-fit</text>
<line x1="535.1" y1="423.8" x2="535.1" y2="433" stroke="#000" stroke-width="1.05"/><circle cx="535.1" cy="428.4" r="3.3"/>
<text x="543.1" y="431.7" class="lg">Data</text>
<rect x="597.6" y="422.8" width="11.8" height="11.3" fill="#ff0000"/>
<text x="611.5" y="431.7" class="lg">tt<tspan class="gr">&#947;</tspan></text>
<line x1="614.2" y1="424.1" x2="617.2" y2="424.1" stroke="#000" stroke-width="0.7"/>
<rect x="529.7" y="438.6" width="10.8" height="10.6" fill="#cc66ff" stroke="#000" stroke-width="1"/>
<text x="543.1" y="447.1" class="lg">Had-fake</text>
<rect x="598.1" y="438.6" width="10.8" height="10.6" fill="#660066" stroke="#000" stroke-width="1"/>
<text x="611.5" y="447.1" class="lg">e-fake</text>
<rect x="529.7" y="454" width="10.8" height="10.6" fill="#0000ff" stroke="#000" stroke-width="1"/>
<text x="543.1" y="462.5" class="lg">Z<tspan class="gr">&#947;</tspan></text>
<rect x="598.1" y="454" width="10.8" height="10.6" fill="#5cd65c" stroke="#000" stroke-width="1"/>
<text x="611.5" y="462.5" class="lg">Other prompt</text>
<rect x="529.2" y="469" width="11.8" height="11.3" fill="url(#hatch)"/>
<text x="543.1" y="477.9" class="lg">Uncertainty</text>
<text transform="translate(530.7,792.3) scale(1.07,1)" text-anchor="middle" class="pl">(d)</text>
<clipPath id="clipe"><rect x="224.7" y="826.7" width="275.6" height="260.5"/></clipPath>
<clipPath id="clipre"><rect x="224.7" y="1087.2" width="275.6" height="67.9"/></clipPath>
<g clip-path="url(#clipe)">
<path d="M224.7,1087.2 L224.7,1038.53 L255.32,1038.53 L255.32,1025.09 L285.94,1025.09 L285.94,1026.01 L316.57,1026.01 L316.57,1022.86 L347.19,1022.86 L347.19,1016.74 L377.81,1016.74 L377.81,987.08 L408.43,987.08 L408.43,969.84 L439.06,969.84 L439.06,951.2 L469.68,951.2 L469.68,942.12 L500.3,942.12 L500.3,1087.2 Z" fill="#ff0000"/>
<path d="M224.7,1087.2 L224.7,1075.8 L255.32,1075.8 L255.32,1070.51 L285.94,1070.51 L285.94,1072 L316.57,1072 L316.57,1077.47 L347.19,1077.47 L347.19,1082.1 L377.81,1082.1 L377.81,1069.96 L408.43,1069.96 L408.43,1070.61 L439.06,1070.61 L439.06,1066.53 L469.68,1066.53 L469.68,1065.41 L500.3,1065.41 L500.3,1087.2 Z" fill="#cc66ff" stroke="#000" stroke-width="0.8"/>
<path d="M224.7,1087.2 L224.7,1079.32 L255.32,1079.32 L255.32,1073.11 L285.94,1073.11 L285.94,1076.45 L316.57,1076.45 L316.57,1082.29 L347.19,1082.29 L347.19,1082.29 L377.81,1082.29 L377.81,1077.37 L408.43,1077.37 L408.43,1077.37 L439.06,1077.37 L439.06,1075.15 L469.68,1075.15 L469.68,1073.76 L500.3,1073.76 L500.3,1087.2 Z" fill="#0000ff" stroke="#000" stroke-width="0.8"/>
<path d="M224.7,1087.2 L224.7,1086.74 L255.32,1086.74 L255.32,1086.74 L285.94,1086.74 L285.94,1086.74 L316.57,1086.74 L316.57,1084.42 L347.19,1084.42 L347.19,1084.7 L377.81,1084.7 L377.81,1084.33 L408.43,1084.33 L408.43,1084.42 L439.06,1084.42 L439.06,1083.4 L469.68,1083.4 L469.68,1084.7 L500.3,1084.7 L500.3,1087.2 Z" fill="#660066" stroke="#000" stroke-width="0.8"/>
<path d="M224.7,1087.2 L224.7,1086.74 L255.32,1086.74 L255.32,1086.74 L285.94,1086.74 L285.94,1086.74 L316.57,1086.74 L316.57,1084.51 L347.19,1084.51 L347.19,1084.79 L377.81,1084.79 L377.81,1084.42 L408.43,1084.42 L408.43,1084.51 L439.06,1084.51 L439.06,1083.49 L469.68,1083.49 L469.68,1084.79 L500.3,1084.79 L500.3,1087.2 Z" fill="#5cd65c" stroke="#000" stroke-width="0.8"/>
<rect x="224.7" y="1031.95" width="30.62" height="13.16" fill="url(#hatch)"/>
<rect x="255.32" y="1012.57" width="30.62" height="25.03" fill="url(#hatch)"/>
<rect x="285.94" y="1013.41" width="30.62" height="25.22" fill="url(#hatch)"/>
<rect x="316.57" y="1015.82" width="30.62" height="14.09" fill="url(#hatch)"/>
<rect x="347.19" y="1012.2" width="30.62" height="9.09" fill="url(#hatch)"/>
<rect x="377.81" y="976.42" width="30.62" height="21.32" fill="url(#hatch)"/>
<rect x="408.43" y="957.69" width="30.62" height="24.29" fill="url(#hatch)"/>
<rect x="439.06" y="941.38" width="30.62" height="19.65" fill="url(#hatch)"/>
<rect x="469.68" y="929.14" width="30.62" height="25.96" fill="url(#hatch)"/>
<line x1="240.5" y1="1025.74" x2="240.5" y2="1039.64" stroke="#000" stroke-width="1.05"/>
<circle cx="240.5" cy="1032.69" r="3.1" fill="#000"/>
<line x1="270.5" y1="1019.71" x2="270.5" y2="1034.54" stroke="#000" stroke-width="1.05"/>
<circle cx="270.5" cy="1027.13" r="3.1" fill="#000"/>
<line x1="301.5" y1="990.32" x2="301.5" y2="1007.94" stroke="#000" stroke-width="1.05"/>
<circle cx="301.5" cy="999.13" r="3.1" fill="#000"/>
<line x1="331.5" y1="1013.41" x2="331.5" y2="1029.17" stroke="#000" stroke-width="1.05"/>
<circle cx="331.5" cy="1021.29" r="3.1" fill="#000"/>
<line x1="362.5" y1="974.29" x2="362.5" y2="993.75" stroke="#000" stroke-width="1.05"/>
<circle cx="362.5" cy="984.02" r="3.1" fill="#000"/>
<line x1="393.5" y1="967.89" x2="393.5" y2="987.91" stroke="#000" stroke-width="1.05"/>
<circle cx="393.5" cy="977.9" r="3.1" fill="#000"/>
<line x1="423.5" y1="964.83" x2="423.5" y2="985.22" stroke="#000" stroke-width="1.05"/>
<circle cx="423.5" cy="975.03" r="3.1" fill="#000"/>
<line x1="454.5" y1="953.43" x2="454.5" y2="974.75" stroke="#000" stroke-width="1.05"/>
<circle cx="454.5" cy="964.09" r="3.1" fill="#000"/>
<line x1="484.5" y1="953.43" x2="484.5" y2="974.75" stroke="#000" stroke-width="1.05"/>
<circle cx="484.5" cy="964.09" r="3.1" fill="#000"/>
</g>
<line x1="224.7" y1="1121.35" x2="500.3" y2="1121.35" stroke="#222" stroke-width="1.1" stroke-dasharray="1.9,1.8"/>
<line x1="240.5" y1="1103.3" x2="240.5" y2="1122.7" stroke="#000" stroke-width="1.05"/>
<circle cx="240.5" cy="1113" r="3.1" fill="#000"/>
<line x1="270.5" y1="1115.27" x2="270.5" y2="1131.49" stroke="#000" stroke-width="1.05"/>
<circle cx="270.5" cy="1123.38" r="3.1" fill="#000"/>
<line x1="301.5" y1="1087.2" x2="301.5" y2="1101.09" stroke="#000" stroke-width="1.05"/>
<circle cx="301.5" cy="1091.32" r="3.1" fill="#000"/>
<line x1="331.5" y1="1111.17" x2="331.5" y2="1127.8" stroke="#000" stroke-width="1.05"/>
<circle cx="331.5" cy="1119.49" r="3.1" fill="#000"/>
<line x1="362.5" y1="1087.2" x2="362.5" y2="1098.99" stroke="#000" stroke-width="1.05"/>
<circle cx="362.5" cy="1089.61" r="3.1" fill="#000"/>
<line x1="393.5" y1="1108.14" x2="393.5" y2="1121.72" stroke="#000" stroke-width="1.05"/>
<circle cx="393.5" cy="1114.93" r="3.1" fill="#000"/>
<line x1="423.5" y1="1118.25" x2="423.5" y2="1130.05" stroke="#000" stroke-width="1.05"/>
<circle cx="423.5" cy="1124.15" r="3.1" fill="#000"/>
<line x1="454.5" y1="1122.26" x2="454.5" y2="1132.91" stroke="#000" stroke-width="1.05"/>
<circle cx="454.5" cy="1127.58" r="3.1" fill="#000"/>
<line x1="484.5" y1="1126.44" x2="484.5" y2="1136.42" stroke="#000" stroke-width="1.05"/>
<circle cx="484.5" cy="1131.43" r="3.1" fill="#000"/>
<rect x="224.7" y="1111.97" width="30.62" height="18.37" fill="url(#hatch)"/>
<rect x="255.32" y="1107.47" width="30.62" height="27.36" fill="url(#hatch)"/>
<rect x="285.94" y="1107.16" width="30.62" height="27.98" fill="url(#hatch)"/>
<rect x="316.57" y="1113.71" width="30.62" height="14.87" fill="url(#hatch)"/>
<rect x="347.19" y="1116.77" width="30.62" height="8.76" fill="url(#hatch)"/>
<rect x="377.81" y="1113.92" width="30.62" height="14.46" fill="url(#hatch)"/>
<rect x="408.43" y="1114.12" width="30.62" height="14.05" fill="url(#hatch)"/>
<rect x="439.06" y="1116.24" width="30.62" height="9.81" fill="url(#hatch)"/>
<rect x="469.68" y="1115.08" width="30.62" height="12.15" fill="url(#hatch)"/>
<path d="M224.5,826.5H500.5V1155.5H224.5Z M224.5,1087.5H500.5" fill="none" stroke="#000" stroke-width="1"/>
<path d="M224.5,1087.5h8.5M500.5,1087.5h-8.5M224.5,1077.5h4.2M500.5,1077.5h-4.2M224.5,1068.5h4.2M500.5,1068.5h-4.2M224.5,1059.5h4.2M500.5,1059.5h-4.2M224.5,1050.5h4.2M500.5,1050.5h-4.2M224.5,1040.5h8.5M500.5,1040.5h-8.5M224.5,1031.5h4.2M500.5,1031.5h-4.2M224.5,1022.5h4.2M500.5,1022.5h-4.2M224.5,1013.5h4.2M500.5,1013.5h-4.2M224.5,1003.5h4.2M500.5,1003.5h-4.2M224.5,994.5h8.5M500.5,994.5h-8.5M224.5,985.5h4.2M500.5,985.5h-4.2M224.5,975.5h4.2M500.5,975.5h-4.2M224.5,966.5h4.2M500.5,966.5h-4.2M224.5,957.5h4.2M500.5,957.5h-4.2M224.5,948.5h8.5M500.5,948.5h-8.5M224.5,938.5h4.2M500.5,938.5h-4.2M224.5,929.5h4.2M500.5,929.5h-4.2M224.5,920.5h4.2M500.5,920.5h-4.2M224.5,911.5h4.2M500.5,911.5h-4.2M224.5,901.5h8.5M500.5,901.5h-8.5M224.5,892.5h4.2M500.5,892.5h-4.2M224.5,883.5h4.2M500.5,883.5h-4.2M224.5,873.5h4.2M500.5,873.5h-4.2M224.5,864.5h4.2M500.5,864.5h-4.2M224.5,855.5h8.5M500.5,855.5h-8.5M224.5,846.5h4.2M500.5,846.5h-4.2M224.5,836.5h4.2M500.5,836.5h-4.2M224.5,827.5h4.2M500.5,827.5h-4.2M224.5,1155.5h6.7M500.5,1155.5h-6.7M224.5,1151.5h3.3M500.5,1151.5h-3.3M224.5,1148.5h3.3M500.5,1148.5h-3.3M224.5,1144.5h3.3M500.5,1144.5h-3.3M224.5,1141.5h3.3M500.5,1141.5h-3.3M224.5,1138.5h6.7M500.5,1138.5h-6.7M224.5,1134.5h3.3M500.5,1134.5h-3.3M224.5,1131.5h3.3M500.5,1131.5h-3.3M224.5,1127.5h3.3M500.5,1127.5h-3.3M224.5,1124.5h3.3M500.5,1124.5h-3.3M224.5,1121.5h6.7M500.5,1121.5h-6.7M224.5,1117.5h3.3M500.5,1117.5h-3.3M224.5,1114.5h3.3M500.5,1114.5h-3.3M224.5,1110.5h3.3M500.5,1110.5h-3.3M224.5,1107.5h3.3M500.5,1107.5h-3.3M224.5,1104.5h6.7M500.5,1104.5h-6.7M224.5,1100.5h3.3M500.5,1100.5h-3.3M224.5,1097.5h3.3M500.5,1097.5h-3.3M224.5,1093.5h3.3M500.5,1093.5h-3.3M224.5,1090.5h3.3M500.5,1090.5h-3.3M224.5,1087.5h6.7M500.5,1087.5h-6.7M224.5,826.5v7.7M224.5,1087.5v-7.7M224.5,1087.5v3.3M224.5,1155.5v-3.3M233.5,826.5v4.0M233.5,1087.5v-4.0M233.5,1087.5v1.7M233.5,1155.5v-1.7M242.5,826.5v4.0M242.5,1087.5v-4.0M242.5,1087.5v1.7M242.5,1155.5v-1.7M251.5,826.5v4.0M251.5,1087.5v-4.0M251.5,1087.5v1.7M251.5,1155.5v-1.7M259.5,826.5v4.0M259.5,1087.5v-4.0M259.5,1087.5v1.7M259.5,1155.5v-1.7M268.5,826.5v7.7M268.5,1087.5v-7.7M268.5,1087.5v3.3M268.5,1155.5v-3.3M277.5,826.5v4.0M277.5,1087.5v-4.0M277.5,1087.5v1.7M277.5,1155.5v-1.7M286.5,826.5v4.0M286.5,1087.5v-4.0M286.5,1087.5v1.7M286.5,1155.5v-1.7M294.5,826.5v4.0M294.5,1087.5v-4.0M294.5,1087.5v1.7M294.5,1155.5v-1.7M303.5,826.5v4.0M303.5,1087.5v-4.0M303.5,1087.5v1.7M303.5,1155.5v-1.7M312.5,826.5v7.7M312.5,1087.5v-7.7M312.5,1087.5v3.3M312.5,1155.5v-3.3M321.5,826.5v4.0M321.5,1087.5v-4.0M321.5,1087.5v1.7M321.5,1155.5v-1.7M329.5,826.5v4.0M329.5,1087.5v-4.0M329.5,1087.5v1.7M329.5,1155.5v-1.7M338.5,826.5v4.0M338.5,1087.5v-4.0M338.5,1087.5v1.7M338.5,1155.5v-1.7M347.5,826.5v4.0M347.5,1087.5v-4.0M347.5,1087.5v1.7M347.5,1155.5v-1.7M356.5,826.5v7.7M356.5,1087.5v-7.7M356.5,1087.5v3.3M356.5,1155.5v-3.3M365.5,826.5v4.0M365.5,1087.5v-4.0M365.5,1087.5v1.7M365.5,1155.5v-1.7M373.5,826.5v4.0M373.5,1087.5v-4.0M373.5,1087.5v1.7M373.5,1155.5v-1.7M382.5,826.5v4.0M382.5,1087.5v-4.0M382.5,1087.5v1.7M382.5,1155.5v-1.7M391.5,826.5v4.0M391.5,1087.5v-4.0M391.5,1087.5v1.7M391.5,1155.5v-1.7M400.5,826.5v7.7M400.5,1087.5v-7.7M400.5,1087.5v3.3M400.5,1155.5v-3.3M408.5,826.5v4.0M408.5,1087.5v-4.0M408.5,1087.5v1.7M408.5,1155.5v-1.7M417.5,826.5v4.0M417.5,1087.5v-4.0M417.5,1087.5v1.7M417.5,1155.5v-1.7M426.5,826.5v4.0M426.5,1087.5v-4.0M426.5,1087.5v1.7M426.5,1155.5v-1.7M435.5,826.5v4.0M435.5,1087.5v-4.0M435.5,1087.5v1.7M435.5,1155.5v-1.7M444.5,826.5v7.7M444.5,1087.5v-7.7M444.5,1087.5v3.3M444.5,1155.5v-3.3M452.5,826.5v4.0M452.5,1087.5v-4.0M452.5,1087.5v1.7M452.5,1155.5v-1.7M461.5,826.5v4.0M461.5,1087.5v-4.0M461.5,1087.5v1.7M461.5,1155.5v-1.7M470.5,826.5v4.0M470.5,1087.5v-4.0M470.5,1087.5v1.7M470.5,1155.5v-1.7M479.5,826.5v4.0M479.5,1087.5v-4.0M479.5,1087.5v1.7M479.5,1155.5v-1.7M487.5,826.5v7.7M487.5,1087.5v-7.7M487.5,1087.5v3.3M487.5,1155.5v-3.3M496.5,826.5v4.0M496.5,1087.5v-4.0M496.5,1087.5v1.7M496.5,1155.5v-1.7" stroke="#000" stroke-width="1" fill="none"/>
<text transform="translate(222.7,1091.3) scale(1.045,1)" text-anchor="end" class="tl">0</text>
<text transform="translate(222.7,1044.95) scale(1.045,1)" text-anchor="end" class="tl">50</text>
<text transform="translate(222.7,998.6) scale(1.045,1)" text-anchor="end" class="tl">100</text>
<text transform="translate(222.7,952.24) scale(1.045,1)" text-anchor="end" class="tl">150</text>
<text transform="translate(222.7,905.89) scale(1.045,1)" text-anchor="end" class="tl">200</text>
<text transform="translate(222.7,859.54) scale(1.045,1)" text-anchor="end" class="tl">250</text>
<text transform="translate(222.7,1159.2) scale(1.045,1)" text-anchor="end" class="tl">0.5</text>
<text transform="translate(222.7,1142.23) scale(1.045,1)" text-anchor="end" class="tl">0.75</text>
<text transform="translate(222.7,1125.25) scale(1.045,1)" text-anchor="end" class="tl">1</text>
<text transform="translate(222.7,1108.28) scale(1.045,1)" text-anchor="end" class="tl">1.25</text>
<text transform="translate(224.7,1167.7) scale(1.045,1)" text-anchor="middle" class="tl">0</text>
<text transform="translate(268.56,1167.7) scale(1.045,1)" text-anchor="middle" class="tl">0.5</text>
<text transform="translate(312.43,1167.7) scale(1.045,1)" text-anchor="middle" class="tl">1</text>
<text transform="translate(356.29,1167.7) scale(1.045,1)" text-anchor="middle" class="tl">1.5</text>
<text transform="translate(400.15,1167.7) scale(1.045,1)" text-anchor="middle" class="tl">2</text>
<text transform="translate(444.02,1167.7) scale(1.045,1)" text-anchor="middle" class="tl">2.5</text>
<text transform="translate(487.88,1167.7) scale(1.045,1)" text-anchor="middle" class="tl">3</text>
<text transform="translate(187.5,825.8) rotate(-90) scale(1.04,1)" text-anchor="end" class="at">Events / 0.35</text>
<text transform="translate(187.5,1091.1) rotate(-90) scale(1.04,1)" text-anchor="end" class="at">Data / Pred.</text>
<text transform="translate(495.4,1184.7) scale(1.035,1)" text-anchor="end" class="xt"><tspan class="gr">&#916;</tspan><tspan class="gr">&#981;</tspan>(l,l)</text>
<text x="238.7" y="847.9" class="atlas">ATLAS</text>
<text x="244.2" y="863.5" class="lt" xml:space="preserve">s = 13 TeV, 36.1  <tspan dx="1.2">fb</tspan><tspan dy="-4.2" font-size="7.5">-1</tspan></text>
<path d="M239.5,859.5 L241.8,863.6 L243.8,853.2 L250.1,853.2" stroke="#000" stroke-width="0.95" fill="none"/>
<text x="238.3" y="879" class="lt">Dilepton</text>
<text x="238.3" y="909.6" class="lt">Pre-fit</text>
<line x1="358.9" y1="836.2" x2="358.9" y2="845.4" stroke="#000" stroke-width="1.05"/><circle cx="358.9" cy="840.8" r="3.3"/>
<text x="366.9" y="844.1" class="lg">Data</text>
<rect x="421.4" y="835.2" width="11.8" height="11.3" fill="#ff0000"/>
<text x="435.3" y="844.1" class="lg">tt<tspan class="gr">&#947;</tspan></text>
<line x1="438" y1="836.5" x2="441" y2="836.5" stroke="#000" stroke-width="0.7"/>
<rect x="353.5" y="851" width="10.8" height="10.6" fill="#cc66ff" stroke="#000" stroke-width="1"/>
<text x="366.9" y="859.5" class="lg">Had-fake</text>
<rect x="421.9" y="851" width="10.8" height="10.6" fill="#660066" stroke="#000" stroke-width="1"/>
<text x="435.3" y="859.5" class="lg">e-fake</text>
<rect x="353.5" y="866.4" width="10.8" height="10.6" fill="#0000ff" stroke="#000" stroke-width="1"/>
<text x="366.9" y="874.9" class="lg">Z<tspan class="gr">&#947;</tspan></text>
<rect x="421.9" y="866.4" width="10.8" height="10.6" fill="#5cd65c" stroke="#000" stroke-width="1"/>
<text x="435.3" y="874.9" class="lg">Other prompt</text>
<rect x="353" y="881.4" width="11.8" height="11.3" fill="url(#hatch)"/>
<text x="366.9" y="890.3" class="lg">Uncertainty</text>
<text transform="translate(355.6,1192.3) scale(1.07,1)" text-anchor="middle" class="pl">(e)</text>
</svg></body></html>
